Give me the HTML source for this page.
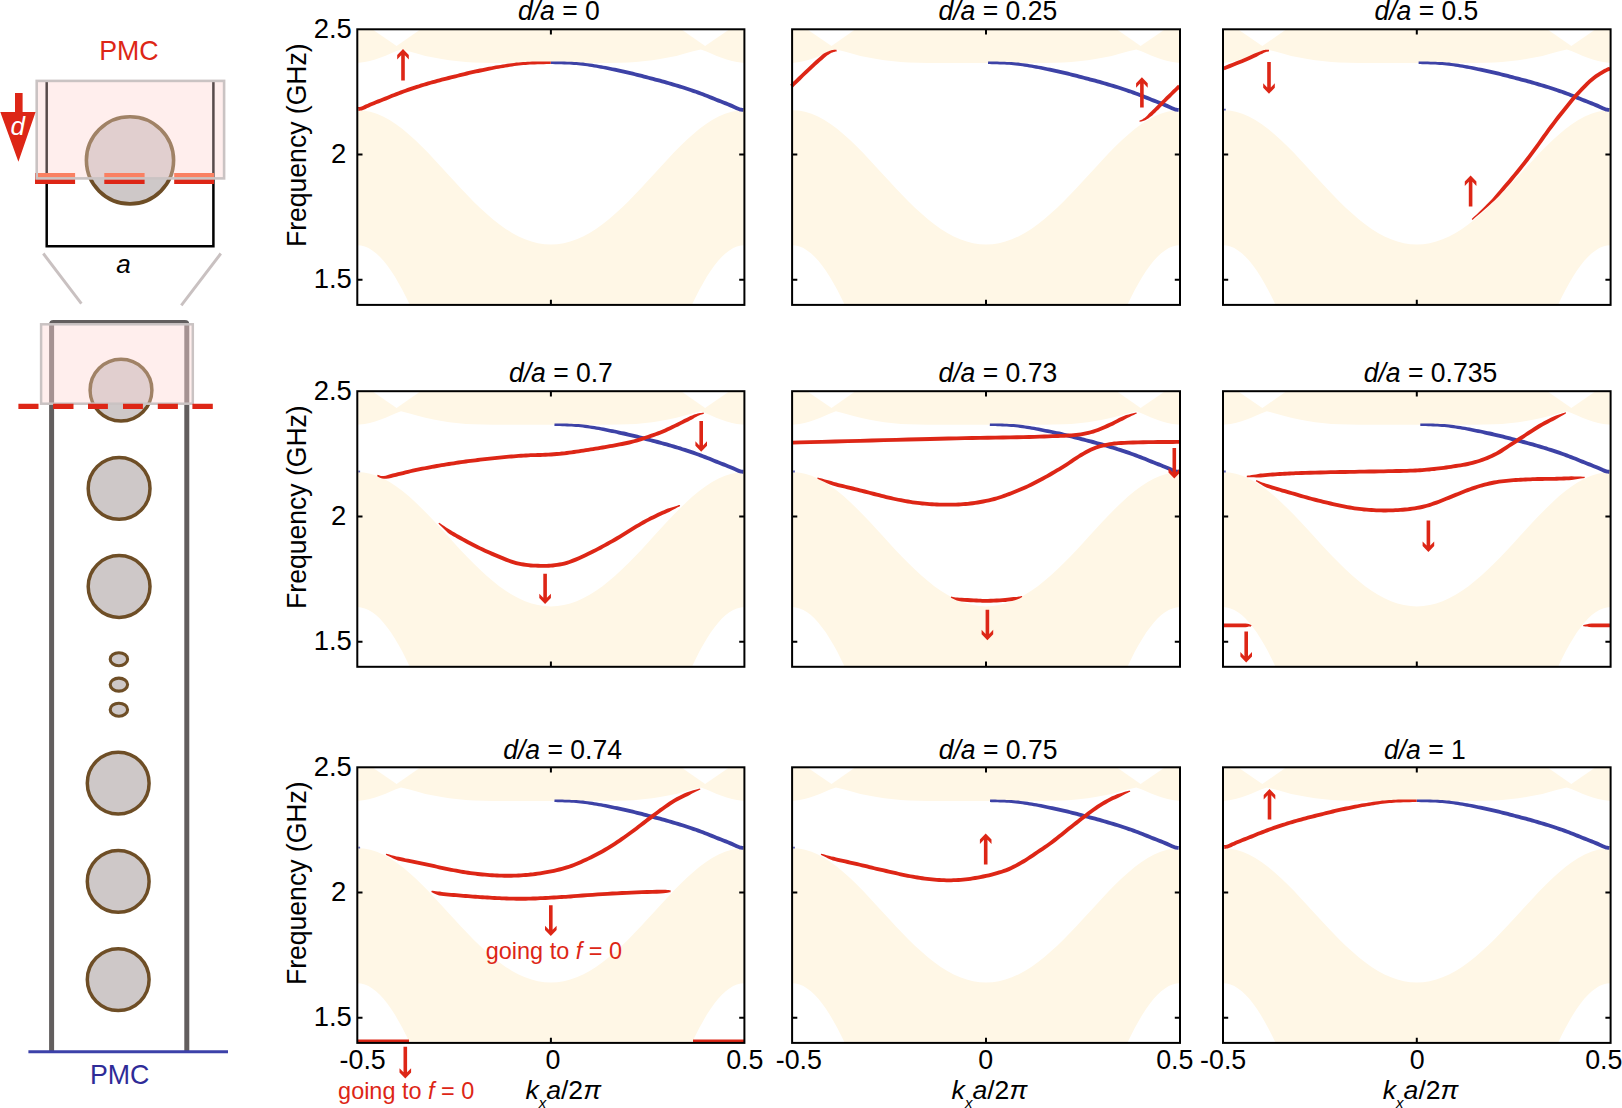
<!DOCTYPE html>
<html lang="en"><head><meta charset="utf-8"><title>Edge-state evolution with boundary shift d/a</title>
<style>html,body{margin:0;padding:0;background:#fff}svg{display:block}text{font-family:'Liberation Sans', Arial, Helvetica, sans-serif}</style></head><body>
<svg width="1622" height="1108" viewBox="0 0 1622 1108">
<rect width="1622" height="1108" fill="#fff"/>
<g>
<path d="M744.4,29.3 L357.3,29.3 L357.3,62.9 L364.7,62.1 L369.7,61 L375.1,59.5 L380.1,57.8 L385.6,55.8 L390.6,53.5 L395.8,51.3 L401,49.4 L409.6,51.5 L417.7,53.8 L425.4,55.9 L433.6,57.5 L441.7,59.1 L449.4,60.3 L465.7,62 L473.4,62.4 L492.8,62.9 L550.9,62.9 L608.9,62.9 L628.3,62.4 L636,62 L652.3,60.3 L660,59.1 L668.1,57.5 L676.3,55.9 L684,53.8 L692.1,51.5 L700.7,49.4 L705.9,51.3 L711.1,53.5 L716.1,55.8 L721.6,57.8 L726.6,59.5 L732,61 L737,62.1 L744.4,62.9 Z" fill="#FFF7E6"/>
<path d="M420.6,29.3L396.6,46.1L372.2,29.3Z" fill="#fff"/>
<path d="M681.1,29.3L705.1,46.1L729.5,29.3Z" fill="#fff"/>
<path d="M357.3,110.2L363.8,110.6L370.2,111.8L376.7,113.8L383.1,116.6L389.6,120.1L396,124.3L402.5,129.1L408.9,134.4L415.4,140.3L421.8,146.5L428.3,153.1L434.7,159.9L441.2,166.9L447.6,173.9L454.1,181L460.5,188L467,194.8L473.4,201.4L479.9,207.7L486.3,213.6L492.8,219.2L499.2,224.3L505.7,228.9L512.1,232.9L518.6,236.4L525,239.3L531.5,241.5L537.9,243.2L544.4,244.2L550.9,244.5L557.3,244.2L563.8,243.2L570.2,241.5L576.7,239.3L583.1,236.4L589.6,232.9L596,228.9L602.5,224.3L608.9,219.2L615.4,213.6L621.8,207.7L628.3,201.4L634.7,194.8L641.2,188L647.6,181L654.1,173.9L660.5,166.9L667,159.9L673.4,153.1L679.9,146.5L686.3,140.3L692.8,134.4L699.2,129.1L705.7,124.3L712.1,120.1L718.6,116.6L725,113.8L731.5,111.8L737.9,110.6L744.4,110.2L744.4,245.2L740.7,245.6L736.9,246.5L733.2,248.1L729.4,250.4L725.7,253.2L721.9,256.7L718.2,260.8L714.4,265.5L710.7,270.7L706.9,276.5L703.2,282.9L699.4,289.7L695.7,297L691.9,304.8L409.8,304.8L406,297L402.3,289.7L398.5,282.9L394.8,276.5L391,270.7L387.3,265.5L383.5,260.8L379.8,256.7L376,253.2L372.3,250.4L368.5,248.1L364.8,246.5L361,245.6L357.3,245.2Z" fill="#FFF7E6"/>
<path d="M358.5,110.9 358.8,110.9 359.3,110.8 359.9,110.8 360.8,110.6 361.8,110.4 363.0,110.0 364.3,109.5 365.7,108.9 367.3,108.1 368.9,107.4 370.7,106.6 372.5,105.8 374.6,105.0 376.7,104.1 379.1,103.2 381.4,102.2 383.8,101.3 386.1,100.4 388.4,99.5 390.6,98.6 392.9,97.6 395.1,96.7 397.3,95.9 399.6,95.0 401.8,94.2 404.1,93.3 406.3,92.5 408.6,91.8 410.9,91.0 413.1,90.2 415.4,89.5 417.6,88.7 419.9,88.0 422.1,87.3 424.4,86.6 426.7,85.9 428.9,85.3 431.1,84.6 433.4,84.0 435.6,83.4 437.8,82.8 440.1,82.2 442.3,81.6 444.6,81.0 446.9,80.4 449.1,79.9 451.4,79.3 453.7,78.8 455.9,78.2 458.2,77.6 460.5,77.0 462.7,76.5 465.0,75.9 467.2,75.4 469.5,74.8 471.7,74.3 474.0,73.8 476.2,73.3 478.4,72.9 480.7,72.4 482.9,71.9 485.2,71.4 487.5,70.9 489.7,70.5 492.0,70.0 494.2,69.6 496.5,69.1 498.7,68.7 500.9,68.3 503.2,67.9 505.4,67.5 507.7,67.2 509.9,66.8 512.2,66.4 514.4,66.1 516.7,65.8 518.9,65.5 521.1,65.2 523.4,65.0 525.5,64.9 527.7,64.7 529.9,64.6 532.2,64.5 534.6,64.4 537.4,64.3 540.4,64.2 543.6,64.2 546.5,64.1 549.0,64.1 550.8,64.0 550.8,61.6 549.0,61.5 546.5,61.5 543.5,61.5 540.4,61.5 537.3,61.6 534.6,61.6 532.1,61.6 529.8,61.7 527.6,61.8 525.3,61.9 523.1,62.0 520.9,62.2 518.6,62.4 516.3,62.6 514.0,62.9 511.7,63.2 509.4,63.5 507.1,63.8 504.9,64.2 502.6,64.5 500.4,64.9 498.1,65.3 495.8,65.6 493.6,66.0 491.3,66.4 489.0,66.8 486.7,67.3 484.5,67.7 482.2,68.2 479.9,68.6 477.6,69.1 475.4,69.6 473.1,70.1 470.9,70.6 468.6,71.1 466.4,71.6 464.1,72.2 461.8,72.7 459.5,73.3 457.3,73.9 455.0,74.5 452.7,75.0 450.5,75.6 448.2,76.1 445.9,76.7 443.7,77.3 441.4,77.8 439.1,78.4 436.8,79.0 434.6,79.7 432.3,80.3 430.1,80.9 427.8,81.6 425.5,82.3 423.3,82.9 421.0,83.6 418.7,84.4 416.4,85.1 414.2,85.8 411.9,86.6 409.6,87.3 407.3,88.1 405.1,88.9 402.8,89.7 400.5,90.6 398.2,91.4 395.9,92.3 393.7,93.2 391.4,94.1 389.2,95.0 386.9,95.9 384.7,96.8 382.4,97.7 380.0,98.7 377.6,99.6 375.3,100.5 373.1,101.4 371.1,102.2 369.1,103.0 367.3,103.9 365.6,104.6 364.1,105.3 362.8,105.9 361.6,106.4 360.7,106.7 360.0,106.9 359.4,107.0 358.9,107.0 358.4,107.0 358.0,107.1Z" fill="#DD2616"/>
<path d="M550.9,64.0 552.7,64.1 555.2,64.2 558.1,64.2 561.3,64.3 564.3,64.4 567.1,64.5 569.5,64.6 571.8,64.7 574.0,64.9 576.2,65.0 578.3,65.2 580.5,65.4 582.8,65.7 585.0,66.0 587.3,66.3 589.5,66.7 591.8,67.1 594.0,67.4 596.3,67.8 598.5,68.3 600.7,68.7 603.0,69.1 605.2,69.6 607.5,70.0 609.7,70.5 612.0,71.0 614.2,71.5 616.5,72.0 618.7,72.5 621.0,73.0 623.2,73.5 625.5,74.0 627.7,74.5 630.0,75.0 632.2,75.6 634.4,76.1 636.7,76.7 638.9,77.3 641.2,77.8 643.5,78.4 645.7,79.0 648.0,79.6 650.3,80.2 652.6,80.8 654.8,81.4 657.1,82.0 659.3,82.6 661.6,83.2 663.8,83.8 666.1,84.4 668.3,85.1 670.6,85.7 672.8,86.4 675.0,87.0 677.3,87.7 679.6,88.4 681.8,89.1 684.1,89.8 686.3,90.6 688.6,91.3 690.8,92.1 693.1,92.9 695.4,93.6 697.6,94.4 699.9,95.3 702.1,96.1 704.4,97.0 706.6,97.8 708.8,98.7 711.1,99.7 713.3,100.6 715.6,101.5 717.9,102.4 720.3,103.3 722.6,104.3 725.0,105.2 727.2,106.1 729.2,106.9 731.0,107.7 732.8,108.4 734.5,109.2 736.0,109.9 737.5,110.5 738.8,111.0 739.9,111.4 741.0,111.6 741.8,111.7 742.5,111.8 742.9,111.8 743.3,111.8 743.6,108.0 743.2,107.9 742.7,107.9 742.2,107.9 741.6,107.8 740.9,107.7 740.0,107.4 738.9,106.9 737.6,106.4 736.0,105.7 734.4,104.9 732.5,104.1 730.6,103.3 728.6,102.5 726.4,101.6 724.1,100.7 721.7,99.8 719.3,98.8 717.0,97.9 714.8,97.0 712.5,96.1 710.3,95.2 708.0,94.3 705.8,93.4 703.5,92.5 701.2,91.7 698.9,90.8 696.6,90.0 694.4,89.2 692.1,88.4 689.8,87.7 687.5,86.9 685.3,86.2 683.0,85.5 680.7,84.7 678.4,84.0 676.2,83.4 673.9,82.7 671.6,82.0 669.4,81.4 667.1,80.7 664.9,80.1 662.6,79.5 660.3,78.8 658.1,78.2 655.8,77.7 653.5,77.1 651.2,76.5 649.0,75.9 646.7,75.3 644.5,74.7 642.2,74.1 639.9,73.5 637.6,72.9 635.4,72.4 633.1,71.8 630.8,71.3 628.6,70.8 626.3,70.2 624.1,69.7 621.8,69.2 619.5,68.7 617.3,68.3 615.0,67.8 612.7,67.4 610.4,66.9 608.1,66.5 605.9,66.1 603.6,65.7 601.4,65.3 599.1,64.9 596.8,64.5 594.6,64.2 592.3,63.8 590.0,63.5 587.7,63.2 585.4,62.9 583.1,62.6 580.9,62.4 578.6,62.2 576.4,62.0 574.1,61.9 571.9,61.8 569.6,61.8 567.1,61.7 564.4,61.6 561.3,61.6 558.2,61.6 555.2,61.6 552.7,61.6 550.9,61.6Z" fill="#3D42A6"/>
<path d="M403,49L408.8,55L408.8,59.4L404.8,55.3L404.8,80.5L401.2,80.5L401.2,55.3L397.2,59.4L397.2,55Z" fill="#DD2616"/>
<rect x="357.3" y="29.3" width="387.1" height="275.6" fill="none" stroke="#000" stroke-width="2"/>
<path d="M357.3,154.6h5.2 M744.4,154.6h-5.2 M357.3,279.8h5.2 M744.4,279.8h-5.2 M550.9,29.3v5.2 M550.9,304.9v-5.2" stroke="#000" stroke-width="2" fill="none"/>
</g>
<text transform="translate(518,20.4) scale(0.972,1)" font-size="27.3" text-anchor="start" fill="#000" ><tspan font-style="italic">d/a</tspan> = 0</text>
<g>
<path d="M1180,29.3 L792.1,29.3 L792.1,62.9 L799.5,62.1 L804.5,61 L809.9,59.5 L815,57.8 L820.4,55.8 L825.5,53.5 L830.7,51.3 L835.9,49.4 L844.5,51.5 L852.6,53.8 L860.4,55.9 L868.5,57.5 L876.7,59.1 L884.4,60.3 L900.7,62 L908.5,62.4 L927.9,62.9 L986,62.9 L1044.2,62.9 L1063.6,62.4 L1071.4,62 L1087.7,60.3 L1095.4,59.1 L1103.6,57.5 L1111.7,55.9 L1119.5,53.8 L1127.6,51.5 L1136.2,49.4 L1141.4,51.3 L1146.6,53.5 L1151.7,55.8 L1157.1,57.8 L1162.2,59.5 L1167.6,61 L1172.6,62.1 L1180,62.9 Z" fill="#FFF7E6"/>
<path d="M855.5,29.3L831.5,46.1L807,29.3Z" fill="#fff"/>
<path d="M1116.6,29.3L1140.6,46.1L1165.1,29.3Z" fill="#fff"/>
<path d="M792.1,110.2L798.6,110.6L805,111.8L811.5,113.8L818,116.6L824.4,120.1L830.9,124.3L837.4,129.1L843.8,134.4L850.3,140.3L856.8,146.5L863.2,153.1L869.7,159.9L876.1,166.9L882.6,173.9L889.1,181L895.5,188L902,194.8L908.5,201.4L914.9,207.7L921.4,213.6L927.9,219.2L934.3,224.3L940.8,228.9L947.3,232.9L953.7,236.4L960.2,239.3L966.7,241.5L973.1,243.2L979.6,244.2L986,244.5L992.5,244.2L999,243.2L1005.4,241.5L1011.9,239.3L1018.4,236.4L1024.8,232.9L1031.3,228.9L1037.8,224.3L1044.2,219.2L1050.7,213.6L1057.2,207.7L1063.6,201.4L1070.1,194.8L1076.6,188L1083,181L1089.5,173.9L1096,166.9L1102.4,159.9L1108.9,153.1L1115.3,146.5L1121.8,140.3L1128.3,134.4L1134.7,129.1L1141.2,124.3L1147.7,120.1L1154.1,116.6L1160.6,113.8L1167.1,111.8L1173.5,110.6L1180,110.2L1180,245.2L1176.2,245.6L1172.5,246.5L1168.7,248.1L1165,250.4L1161.2,253.2L1157.5,256.7L1153.7,260.8L1150,265.5L1146.2,270.7L1142.5,276.5L1138.7,282.9L1134.9,289.7L1131.2,297L1127.4,304.8L844.7,304.8L840.9,297L837.2,289.7L833.4,282.9L829.6,276.5L825.9,270.7L822.1,265.5L818.4,260.8L814.6,256.7L810.9,253.2L807.1,250.4L803.4,248.1L799.6,246.5L795.9,245.6L792.1,245.2Z" fill="#FFF7E6"/>
<path d="M988.0,64.1 989.6,64.1 991.8,64.2 994.3,64.2 997.0,64.3 999.8,64.4 1002.3,64.5 1004.5,64.6 1006.8,64.7 1009.1,64.8 1011.3,65.0 1013.5,65.2 1015.7,65.4 1018.0,65.7 1020.2,66.0 1022.5,66.3 1024.7,66.7 1027.0,67.0 1029.2,67.4 1031.5,67.8 1033.7,68.2 1035.9,68.7 1038.2,69.1 1040.4,69.6 1042.7,70.0 1044.9,70.5 1047.2,71.0 1049.4,71.5 1051.7,72.0 1053.9,72.5 1056.2,73.0 1058.4,73.5 1060.7,74.0 1062.9,74.5 1065.2,75.0 1067.4,75.6 1069.6,76.1 1071.9,76.7 1074.1,77.3 1076.4,77.8 1078.7,78.4 1080.9,79.0 1083.2,79.6 1085.5,80.2 1087.8,80.8 1090.0,81.4 1092.3,82.0 1094.5,82.6 1096.8,83.2 1099.0,83.8 1101.3,84.4 1103.5,85.1 1105.8,85.7 1108.0,86.4 1110.2,87.0 1112.5,87.7 1114.8,88.4 1117.0,89.1 1119.3,89.8 1121.5,90.6 1123.8,91.3 1126.0,92.1 1128.3,92.9 1130.6,93.6 1132.8,94.4 1135.1,95.3 1137.3,96.1 1139.6,97.0 1141.8,97.8 1144.0,98.7 1146.3,99.7 1148.5,100.6 1150.8,101.5 1153.1,102.4 1155.5,103.3 1157.8,104.3 1160.2,105.2 1162.4,106.1 1164.4,106.9 1166.2,107.7 1168.0,108.4 1169.7,109.2 1171.2,109.9 1172.7,110.5 1174.0,111.0 1175.1,111.4 1176.2,111.6 1177.0,111.7 1177.7,111.8 1178.1,111.8 1178.5,111.8 1178.8,108.0 1178.4,107.9 1177.9,107.9 1177.4,107.9 1176.8,107.8 1176.1,107.7 1175.2,107.4 1174.1,106.9 1172.8,106.4 1171.2,105.7 1169.6,104.9 1167.7,104.1 1165.8,103.3 1163.8,102.5 1161.6,101.6 1159.3,100.7 1156.9,99.8 1154.5,98.8 1152.2,97.9 1150.0,97.0 1147.7,96.1 1145.5,95.2 1143.2,94.3 1141.0,93.4 1138.7,92.5 1136.4,91.7 1134.1,90.8 1131.8,90.0 1129.6,89.2 1127.3,88.4 1125.0,87.7 1122.7,86.9 1120.5,86.2 1118.2,85.5 1115.9,84.7 1113.6,84.0 1111.4,83.4 1109.1,82.7 1106.8,82.0 1104.6,81.4 1102.3,80.7 1100.1,80.1 1097.8,79.5 1095.5,78.8 1093.3,78.2 1091.0,77.7 1088.7,77.1 1086.4,76.5 1084.2,75.9 1081.9,75.3 1079.7,74.7 1077.4,74.1 1075.1,73.5 1072.8,72.9 1070.6,72.4 1068.3,71.8 1066.0,71.3 1063.8,70.8 1061.5,70.2 1059.3,69.7 1057.0,69.2 1054.7,68.8 1052.5,68.3 1050.2,67.8 1047.9,67.4 1045.6,66.9 1043.3,66.5 1041.1,66.1 1038.8,65.7 1036.6,65.3 1034.3,64.9 1032.0,64.5 1029.8,64.2 1027.5,63.8 1025.2,63.5 1022.9,63.2 1020.6,62.9 1018.3,62.6 1016.1,62.4 1013.8,62.2 1011.5,62.1 1009.2,61.9 1006.9,61.9 1004.7,61.8 1002.3,61.7 999.8,61.7 997.1,61.6 994.3,61.6 991.8,61.6 989.6,61.6 988.1,61.6Z" fill="#3D42A6"/>
<path d="M792.9,87.5 794.8,85.6 797.5,83.0 800.7,79.9 804.0,76.6 807.3,73.5 810.2,70.7 812.9,68.2 815.5,65.8 818.1,63.5 820.5,61.3 822.7,59.4 824.5,57.8 826.0,56.6 827.1,55.6 828.0,55.0 828.8,54.5 829.5,54.0 830.3,53.5 831.0,53.1 831.6,52.8 832.1,52.6 832.6,52.4 833.1,52.2 833.7,52.1 834.2,51.9 834.8,51.8 835.4,51.6 835.9,51.6 836.4,51.5 836.7,51.4 836.5,49.7 836.2,49.7 835.7,49.7 835.2,49.7 834.5,49.8 833.8,49.8 833.2,49.9 832.6,50.0 832.0,50.1 831.4,50.2 830.7,50.4 829.9,50.7 829.1,51.0 828.2,51.4 827.3,51.7 826.4,52.2 825.2,52.8 823.8,53.6 822.1,54.8 820.2,56.5 817.9,58.4 815.5,60.6 812.9,63.0 810.2,65.4 807.6,67.9 804.6,70.7 801.3,73.9 798.0,77.1 794.8,80.2 792.1,82.8 790.2,84.7Z" fill="#DD2616"/>
<path d="M1139.8,121.9 1140.2,121.8 1140.8,121.6 1141.5,121.5 1142.3,121.3 1143.0,121.0 1143.8,120.7 1144.5,120.5 1145.1,120.2 1145.7,119.9 1146.5,119.6 1147.3,119.0 1148.3,118.4 1149.5,117.5 1150.8,116.6 1152.3,115.5 1153.7,114.1 1155.2,112.7 1156.8,111.1 1158.6,109.4 1160.4,107.6 1162.4,105.6 1164.4,103.6 1166.4,101.6 1168.4,99.6 1170.6,97.5 1172.9,95.1 1175.3,92.8 1177.6,90.6 1179.5,88.8 1180.8,87.5 1178.1,84.7 1176.8,86.0 1174.9,87.9 1172.6,90.0 1170.3,92.4 1167.9,94.7 1165.7,96.8 1163.7,98.9 1161.6,100.9 1159.6,102.9 1157.7,104.9 1155.9,106.7 1154.2,108.4 1152.6,109.9 1151.1,111.4 1149.7,112.7 1148.5,114.0 1147.5,115.2 1146.5,116.2 1145.7,117.0 1145.1,117.5 1144.5,118.0 1144.0,118.3 1143.5,118.6 1142.9,119.0 1142.3,119.4 1141.7,119.7 1141.0,120.1 1140.4,120.3 1139.8,120.6 1139.4,120.8Z" fill="#DD2616"/>
<path d="M1141.9,77.3L1147.7,83.3L1147.7,87.7L1143.7,83.6L1143.7,107.5L1140.1,107.5L1140.1,83.6L1136.1,87.7L1136.1,83.3Z" fill="#DD2616"/>
<rect x="792.1" y="29.3" width="387.9" height="275.6" fill="none" stroke="#000" stroke-width="2"/>
<path d="M792.1,154.6h5.2 M1180,154.6h-5.2 M792.1,279.8h5.2 M1180,279.8h-5.2 M986,29.3v5.2 M986,304.9v-5.2" stroke="#000" stroke-width="2" fill="none"/>
</g>
<text transform="translate(938.5,20.4) scale(0.972,1)" font-size="27.3" text-anchor="start" fill="#000" ><tspan font-style="italic">d/a</tspan> = 0.25</text>
<g>
<path d="M1610.6,29.3 L1223,29.3 L1223,62.9 L1230.4,62.1 L1235.4,61 L1240.8,59.5 L1245.9,57.8 L1251.3,55.8 L1256.3,53.5 L1261.6,51.3 L1266.8,49.4 L1275.3,51.5 L1283.5,53.8 L1291.2,55.9 L1299.4,57.5 L1307.5,59.1 L1315.2,60.3 L1331.5,62 L1339.3,62.4 L1358.7,62.9 L1416.8,62.9 L1474.9,62.9 L1494.3,62.4 L1502.1,62 L1518.4,60.3 L1526.1,59.1 L1534.2,57.5 L1542.4,55.9 L1550.1,53.8 L1558.3,51.5 L1566.8,49.4 L1572,51.3 L1577.3,53.5 L1582.3,55.8 L1587.7,57.8 L1592.8,59.5 L1598.2,61 L1603.2,62.1 L1610.6,62.9 Z" fill="#FFF7E6"/>
<path d="M1286.4,29.3L1262.3,46.1L1237.9,29.3Z" fill="#fff"/>
<path d="M1547.2,29.3L1571.3,46.1L1595.7,29.3Z" fill="#fff"/>
<path d="M1223,110.2L1229.5,110.6L1235.9,111.8L1242.4,113.8L1248.8,116.6L1255.3,120.1L1261.8,124.3L1268.2,129.1L1274.7,134.4L1281.1,140.3L1287.6,146.5L1294.1,153.1L1300.5,159.9L1307,166.9L1313.4,173.9L1319.9,181L1326.4,188L1332.8,194.8L1339.3,201.4L1345.7,207.7L1352.2,213.6L1358.7,219.2L1365.1,224.3L1371.6,228.9L1378,232.9L1384.5,236.4L1391,239.3L1397.4,241.5L1403.9,243.2L1410.3,244.2L1416.8,244.5L1423.3,244.2L1429.7,243.2L1436.2,241.5L1442.6,239.3L1449.1,236.4L1455.6,232.9L1462,228.9L1468.5,224.3L1474.9,219.2L1481.4,213.6L1487.9,207.7L1494.3,201.4L1500.8,194.8L1507.2,188L1513.7,181L1520.2,173.9L1526.6,166.9L1533.1,159.9L1539.5,153.1L1546,146.5L1552.5,140.3L1558.9,134.4L1565.4,129.1L1571.8,124.3L1578.3,120.1L1584.8,116.6L1591.2,113.8L1597.7,111.8L1604.1,110.6L1610.6,110.2L1610.6,245.2L1606.8,245.6L1603.1,246.5L1599.3,248.1L1595.6,250.4L1591.8,253.2L1588.1,256.7L1584.3,260.8L1580.6,265.5L1576.8,270.7L1573.1,276.5L1569.3,282.9L1565.6,289.7L1561.8,297L1558.1,304.8L1275.5,304.8L1271.8,297L1268,289.7L1264.3,282.9L1260.5,276.5L1256.8,270.7L1253,265.5L1249.3,260.8L1245.5,256.7L1241.8,253.2L1238,250.4L1234.3,248.1L1230.5,246.5L1226.8,245.6L1223,245.2Z" fill="#FFF7E6"/>
<path d="M1418.6,64.1 1420.2,64.1 1422.4,64.2 1425.0,64.2 1427.7,64.3 1430.5,64.4 1433.0,64.5 1435.3,64.6 1437.6,64.7 1439.8,64.9 1442.1,65.0 1444.3,65.2 1446.5,65.4 1448.7,65.7 1451.0,66.0 1453.2,66.3 1455.5,66.7 1457.7,67.0 1460.0,67.4 1462.2,67.8 1464.5,68.2 1466.7,68.7 1468.9,69.1 1471.2,69.6 1473.4,70.0 1475.7,70.5 1477.9,71.0 1480.2,71.5 1482.4,72.0 1484.7,72.5 1486.9,73.0 1489.2,73.5 1491.4,74.0 1493.7,74.5 1495.9,75.0 1498.1,75.6 1500.4,76.1 1502.6,76.7 1504.9,77.3 1507.2,77.8 1509.4,78.4 1511.7,79.0 1514.0,79.6 1516.2,80.2 1518.5,80.8 1520.8,81.4 1523.0,82.0 1525.3,82.6 1527.5,83.2 1529.8,83.8 1532.0,84.4 1534.3,85.1 1536.5,85.7 1538.7,86.4 1541.0,87.0 1543.2,87.7 1545.5,88.4 1547.8,89.1 1550.0,89.8 1552.3,90.6 1554.5,91.3 1556.8,92.1 1559.1,92.9 1561.3,93.6 1563.6,94.4 1565.8,95.3 1568.1,96.1 1570.3,97.0 1572.5,97.8 1574.8,98.7 1577.0,99.7 1579.3,100.6 1581.5,101.5 1583.9,102.4 1586.2,103.3 1588.6,104.3 1590.9,105.2 1593.1,106.1 1595.1,106.9 1597.0,107.7 1598.7,108.4 1600.4,109.2 1602.0,109.9 1603.4,110.5 1604.7,111.0 1605.9,111.4 1606.9,111.6 1607.8,111.7 1608.4,111.8 1608.9,111.8 1609.2,111.8 1609.6,108.0 1609.1,107.9 1608.7,107.9 1608.2,107.9 1607.6,107.8 1606.9,107.7 1606.0,107.4 1604.9,106.9 1603.5,106.4 1602.0,105.7 1600.3,104.9 1598.5,104.1 1596.6,103.3 1594.5,102.5 1592.3,101.6 1590.0,100.7 1587.6,99.8 1585.3,98.8 1583.0,97.9 1580.7,97.0 1578.5,96.1 1576.2,95.2 1574.0,94.3 1571.7,93.4 1569.4,92.5 1567.2,91.7 1564.9,90.8 1562.6,90.0 1560.3,89.2 1558.0,88.4 1555.8,87.7 1553.5,86.9 1551.2,86.2 1548.9,85.5 1546.6,84.7 1544.4,84.0 1542.1,83.4 1539.8,82.7 1537.6,82.0 1535.3,81.4 1533.1,80.7 1530.8,80.1 1528.6,79.5 1526.3,78.8 1524.0,78.2 1521.7,77.7 1519.5,77.1 1517.2,76.5 1514.9,75.9 1512.7,75.3 1510.4,74.7 1508.1,74.1 1505.9,73.5 1503.6,72.9 1501.3,72.4 1499.0,71.8 1496.8,71.3 1494.5,70.8 1492.3,70.2 1490.0,69.7 1487.8,69.2 1485.5,68.8 1483.2,68.3 1480.9,67.8 1478.6,67.4 1476.4,66.9 1474.1,66.5 1471.8,66.1 1469.6,65.7 1467.3,65.3 1465.1,64.9 1462.8,64.5 1460.5,64.2 1458.2,63.8 1456.0,63.5 1453.7,63.2 1451.4,62.9 1449.1,62.6 1446.8,62.4 1444.5,62.2 1442.2,62.1 1440.0,61.9 1437.7,61.9 1435.4,61.8 1433.1,61.7 1430.6,61.7 1427.8,61.6 1425.0,61.6 1422.4,61.6 1420.2,61.6 1418.6,61.6Z" fill="#3D42A6"/>
<path d="M1224,109.6h1.8" stroke="#3D42A6" stroke-width="1.8" stroke-opacity="0.8" fill="none"/>
<path d="M1224.4,70.2 1226.8,69.3 1230.3,67.9 1234.3,66.3 1238.6,64.6 1242.6,63.0 1246.1,61.6 1249.0,60.3 1251.8,59.0 1254.4,57.8 1256.7,56.7 1258.7,55.5 1260.4,54.6 1261.8,53.9 1262.8,53.4 1263.5,53.0 1264.1,52.7 1264.6,52.5 1265.3,52.3 1266.0,52.0 1266.7,51.8 1267.4,51.7 1268.1,51.6 1268.7,51.5 1269.1,51.4 1268.9,49.7 1268.5,49.7 1267.9,49.7 1267.2,49.7 1266.4,49.8 1265.5,49.8 1264.7,50.0 1263.9,50.1 1263.2,50.3 1262.5,50.5 1261.7,50.8 1260.6,51.2 1259.1,51.7 1257.2,52.4 1255.1,53.2 1252.8,54.3 1250.2,55.5 1247.5,56.8 1244.6,58.0 1241.2,59.4 1237.1,61.1 1232.9,62.8 1228.8,64.3 1225.4,65.7 1223.0,66.7Z" fill="#DD2616"/>
<path d="M1472.5,220.0 1474.6,218.1 1477.6,215.6 1481.2,212.5 1484.9,209.3 1488.6,206.1 1491.8,203.1 1494.6,200.5 1497.1,197.9 1499.6,195.4 1502.0,192.8 1504.4,190.3 1506.7,187.6 1509.2,184.8 1511.6,181.9 1514.0,179.1 1516.4,176.1 1518.8,173.2 1521.2,170.2 1523.7,167.1 1526.1,164.1 1528.5,160.9 1530.9,157.8 1533.3,154.6 1535.7,151.3 1538.1,148.0 1540.6,144.6 1543.0,141.2 1545.4,137.8 1547.8,134.4 1550.2,131.1 1552.6,127.9 1555.0,124.7 1557.4,121.6 1559.8,118.5 1562.2,115.4 1564.6,112.4 1567.0,109.4 1569.4,106.4 1571.8,103.5 1574.2,100.6 1576.5,97.8 1578.9,95.2 1581.4,92.5 1583.8,89.9 1586.3,87.4 1588.7,85.0 1591.0,82.8 1593.2,80.9 1595.3,79.2 1597.3,77.8 1599.3,76.4 1601.1,75.3 1602.9,74.2 1604.5,73.3 1605.9,72.5 1607.2,71.8 1608.3,71.3 1609.3,70.9 1610.2,70.5 1610.9,70.2 1609.4,66.7 1608.7,67.0 1607.9,67.3 1606.8,67.8 1605.5,68.4 1604.1,69.1 1602.5,70.0 1600.9,70.9 1599.1,72.0 1597.2,73.2 1595.1,74.6 1592.9,76.2 1590.7,78.0 1588.4,80.0 1586.0,82.3 1583.5,84.7 1581.0,87.3 1578.5,89.9 1576.1,92.6 1573.6,95.3 1571.2,98.1 1568.8,101.0 1566.4,104.0 1564.0,107.0 1561.6,110.0 1559.1,113.0 1556.7,116.1 1554.3,119.2 1551.9,122.4 1549.5,125.6 1547.1,128.8 1544.7,132.2 1542.2,135.6 1539.8,139.0 1537.4,142.4 1535.0,145.8 1532.6,149.1 1530.2,152.3 1527.8,155.5 1525.4,158.6 1523.0,161.7 1520.6,164.8 1518.2,167.8 1515.8,170.8 1513.4,173.7 1511.0,176.6 1508.6,179.4 1506.2,182.3 1503.8,185.0 1501.5,187.8 1499.3,190.5 1497.1,193.1 1494.8,195.8 1492.5,198.5 1489.9,201.2 1486.9,204.3 1483.5,207.7 1479.9,211.2 1476.6,214.4 1473.7,217.1 1471.7,219.1Z" fill="#DD2616"/>
<path d="M1269,93.7L1274.8,87.7L1274.8,83.3L1270.8,87.4L1270.8,62.1L1267.2,62.1L1267.2,87.4L1263.2,83.3L1263.2,87.7Z" fill="#DD2616"/>
<path d="M1470.6,175.5L1476.4,181.5L1476.4,185.9L1472.4,181.8L1472.4,206.5L1468.8,206.5L1468.8,181.8L1464.8,185.9L1464.8,181.5Z" fill="#DD2616"/>
<rect x="1223" y="29.3" width="387.6" height="275.6" fill="none" stroke="#000" stroke-width="2"/>
<path d="M1223,154.6h5.2 M1610.6,154.6h-5.2 M1223,279.8h5.2 M1610.6,279.8h-5.2 M1416.8,29.3v5.2 M1416.8,304.9v-5.2" stroke="#000" stroke-width="2" fill="none"/>
</g>
<text transform="translate(1374.4,20.4) scale(0.972,1)" font-size="27.3" text-anchor="start" fill="#000" ><tspan font-style="italic">d/a</tspan> = 0.5</text>
<text transform="translate(351.9,37.7) scale(0.968,1)" font-size="28.4" text-anchor="end" fill="#000" >2.5</text>
<text transform="translate(346.4,163) scale(0.968,1)" font-size="28.4" text-anchor="end" fill="#000" >2</text>
<text transform="translate(351.9,288.2) scale(0.968,1)" font-size="28.4" text-anchor="end" fill="#000" >1.5</text>
<text transform="translate(306.2,145.2) rotate(-90)" font-size="27.6" text-anchor="middle" textLength="203.6" lengthAdjust="spacingAndGlyphs" fill="#000">Frequency (GHz)</text>
<g>
<path d="M744.4,391.2 L357.3,391.2 L357.3,424.8 L364.7,424 L369.7,422.9 L375.1,421.4 L380.1,419.7 L385.6,417.7 L390.6,415.4 L395.8,413.2 L401,411.3 L409.6,413.4 L417.7,415.7 L425.4,417.8 L433.6,419.4 L441.7,421 L449.4,422.2 L465.7,423.9 L473.4,424.3 L492.8,424.8 L550.9,424.8 L608.9,424.8 L628.3,424.3 L636,423.9 L652.3,422.2 L660,421 L668.1,419.4 L676.3,417.8 L684,415.7 L692.1,413.4 L700.7,411.3 L705.9,413.2 L711.1,415.4 L716.1,417.7 L721.6,419.7 L726.6,421.4 L732,422.9 L737,424 L744.4,424.8 Z" fill="#FFF7E6"/>
<path d="M420.6,391.2L396.6,408L372.2,391.2Z" fill="#fff"/>
<path d="M681.1,391.2L705.1,408L729.5,391.2Z" fill="#fff"/>
<path d="M357.3,472.1L363.8,472.5L370.2,473.7L376.7,475.7L383.1,478.5L389.6,482L396,486.2L402.5,491L408.9,496.3L415.4,502.2L421.8,508.4L428.3,515L434.7,521.8L441.2,528.8L447.6,535.8L454.1,542.9L460.5,549.9L467,556.7L473.4,563.3L479.9,569.6L486.3,575.5L492.8,581.1L499.2,586.2L505.7,590.8L512.1,594.8L518.6,598.3L525,601.2L531.5,603.4L537.9,605.1L544.4,606.1L550.9,606.4L557.3,606.1L563.8,605.1L570.2,603.4L576.7,601.2L583.1,598.3L589.6,594.8L596,590.8L602.5,586.2L608.9,581.1L615.4,575.5L621.8,569.6L628.3,563.3L634.7,556.7L641.2,549.9L647.6,542.9L654.1,535.8L660.5,528.8L667,521.8L673.4,515L679.9,508.4L686.3,502.2L692.8,496.3L699.2,491L705.7,486.2L712.1,482L718.6,478.5L725,475.7L731.5,473.7L737.9,472.5L744.4,472.1L744.4,607.1L740.7,607.5L736.9,608.4L733.2,610L729.4,612.3L725.7,615.1L721.9,618.6L718.2,622.7L714.4,627.4L710.7,632.6L706.9,638.4L703.2,644.8L699.4,651.6L695.7,658.9L691.9,666.7L409.8,666.7L406,658.9L402.3,651.6L398.5,644.8L394.8,638.4L391,632.6L387.3,627.4L383.5,622.7L379.8,618.6L376,615.1L372.3,612.3L368.5,610L364.8,608.4L361,607.5L357.3,607.1Z" fill="#FFF7E6"/>
<path d="M554.4,426.0 555.8,426.0 557.7,426.1 559.9,426.1 562.3,426.2 564.8,426.3 567.1,426.4 569.3,426.5 571.5,426.6 573.8,426.7 576.0,426.9 578.3,427.1 580.6,427.3 582.8,427.6 585.0,427.9 587.3,428.2 589.5,428.6 591.8,428.9 594.0,429.3 596.3,429.7 598.5,430.1 600.7,430.5 603.0,431.0 605.2,431.4 607.5,431.9 609.7,432.4 612.0,432.9 614.2,433.3 616.5,433.8 618.7,434.4 621.0,434.9 623.2,435.4 625.5,435.9 627.7,436.4 630.0,436.9 632.2,437.5 634.4,438.0 636.7,438.6 638.9,439.2 641.2,439.7 643.5,440.3 645.7,440.9 648.0,441.5 650.3,442.1 652.6,442.7 654.8,443.3 657.1,443.9 659.3,444.5 661.6,445.1 663.8,445.7 666.1,446.3 668.3,447.0 670.6,447.6 672.8,448.3 675.0,448.9 677.3,449.6 679.6,450.3 681.8,451.0 684.1,451.7 686.3,452.5 688.6,453.2 690.8,454.0 693.1,454.8 695.4,455.5 697.6,456.3 699.9,457.2 702.1,458.0 704.4,458.9 706.6,459.7 708.8,460.6 711.1,461.6 713.3,462.5 715.6,463.4 717.9,464.3 720.3,465.2 722.6,466.2 725.0,467.1 727.2,468.0 729.2,468.8 731.0,469.6 732.8,470.3 734.5,471.1 736.0,471.8 737.5,472.4 738.8,472.9 739.9,473.3 741.0,473.5 741.8,473.6 742.5,473.7 742.9,473.7 743.3,473.7 743.6,469.9 743.2,469.8 742.7,469.8 742.2,469.8 741.6,469.7 740.9,469.6 740.0,469.3 738.9,468.8 737.6,468.3 736.0,467.6 734.4,466.8 732.5,466.0 730.6,465.2 728.6,464.4 726.4,463.5 724.1,462.6 721.7,461.7 719.3,460.7 717.0,459.8 714.8,458.9 712.5,458.0 710.3,457.1 708.0,456.2 705.8,455.3 703.5,454.4 701.2,453.6 698.9,452.7 696.6,451.9 694.4,451.1 692.1,450.3 689.8,449.6 687.5,448.8 685.3,448.1 683.0,447.4 680.7,446.6 678.4,445.9 676.2,445.3 673.9,444.6 671.6,443.9 669.4,443.3 667.1,442.6 664.9,442.0 662.6,441.4 660.3,440.7 658.1,440.1 655.8,439.6 653.5,439.0 651.2,438.4 649.0,437.8 646.7,437.2 644.5,436.6 642.2,436.0 639.9,435.4 637.6,434.8 635.4,434.3 633.1,433.7 630.8,433.2 628.6,432.7 626.3,432.1 624.1,431.6 621.8,431.2 619.5,430.7 617.3,430.2 615.0,429.8 612.7,429.3 610.4,428.9 608.1,428.4 605.9,428.0 603.6,427.6 601.4,427.2 599.1,426.8 596.8,426.4 594.6,426.1 592.3,425.7 590.0,425.4 587.7,425.1 585.4,424.8 583.1,424.5 580.8,424.3 578.5,424.1 576.2,424.0 573.9,423.9 571.6,423.8 569.4,423.7 567.1,423.6 564.8,423.6 562.4,423.5 559.9,423.5 557.7,423.5 555.8,423.5 554.5,423.5Z" fill="#3D42A6"/>
<path d="M358.3,471.5h1.8" stroke="#3D42A6" stroke-width="1.8" stroke-opacity="0.8" fill="none"/>
<path d="M377.1,476.1 377.6,476.4 378.4,476.9 379.4,477.5 380.6,478.1 382.1,478.5 384.0,478.7 386.1,478.7 388.5,478.4 391.1,478.0 393.7,477.3 396.3,476.7 398.8,476.1 401.2,475.5 403.6,474.9 406.0,474.3 408.4,473.7 410.8,473.1 413.2,472.6 415.6,472.1 418.0,471.6 420.4,471.1 422.8,470.6 425.2,470.1 427.6,469.7 430.0,469.2 432.3,468.8 434.7,468.4 437.1,467.9 439.5,467.5 441.9,467.1 444.3,466.7 446.7,466.3 449.2,465.9 451.6,465.5 454.0,465.2 456.4,464.8 458.8,464.5 461.2,464.1 463.6,463.8 466.0,463.4 468.3,463.1 470.8,462.8 473.2,462.5 475.6,462.2 478.0,461.9 480.4,461.6 482.8,461.3 485.2,461.0 487.6,460.7 490.0,460.5 492.4,460.2 494.8,460.0 497.2,459.8 499.6,459.5 502.0,459.3 504.4,459.1 506.8,458.8 509.2,458.6 511.6,458.4 514.0,458.2 516.4,458.0 518.8,457.8 521.2,457.7 523.6,457.5 526.0,457.4 528.4,457.2 530.7,457.1 533.1,457.1 535.4,457.0 537.8,457.0 540.2,456.9 542.8,456.8 545.5,456.7 548.3,456.5 551.2,456.4 554.0,456.2 556.9,456.0 559.6,455.7 562.1,455.5 564.6,455.2 567.0,454.9 569.4,454.6 571.8,454.2 574.2,453.9 576.6,453.6 579.0,453.2 581.4,452.8 583.8,452.5 586.2,452.1 588.6,451.7 591.0,451.3 593.4,451.0 595.8,450.6 598.2,450.2 600.6,449.8 603.0,449.4 605.4,449.0 607.9,448.6 610.3,448.1 612.7,447.7 615.1,447.3 617.6,446.8 620.0,446.3 622.4,445.9 624.8,445.4 627.2,444.9 629.6,444.4 632.1,443.8 634.5,443.1 637.0,442.4 639.4,441.7 641.9,440.9 644.3,440.1 646.7,439.3 649.1,438.6 651.5,437.8 653.9,437.0 656.3,436.1 658.8,435.2 661.2,434.3 663.7,433.3 666.1,432.2 668.5,431.1 670.9,429.9 673.3,428.8 675.7,427.6 678.2,426.4 680.8,425.1 683.4,423.8 685.9,422.5 688.2,421.4 690.3,420.3 692.0,419.4 693.6,418.5 694.9,417.6 696.1,416.9 697.3,416.3 698.4,415.7 699.5,415.2 700.6,414.8 701.6,414.4 702.5,414.2 703.3,413.9 703.9,413.8 703.7,412.6 703.1,412.7 702.3,412.8 701.3,412.9 700.1,413.0 698.9,413.2 697.6,413.5 696.3,413.9 695.0,414.3 693.6,414.8 692.1,415.4 690.4,416.0 688.5,416.9 686.5,417.9 684.1,419.1 681.6,420.4 679.1,421.7 676.5,423.0 674.1,424.2 671.7,425.3 669.3,426.5 666.9,427.6 664.5,428.7 662.1,429.7 659.8,430.7 657.4,431.6 655.1,432.5 652.7,433.3 650.3,434.1 647.9,434.9 645.5,435.7 643.1,436.5 640.7,437.2 638.3,438.0 635.9,438.7 633.5,439.4 631.1,440.0 628.8,440.6 626.4,441.1 624.0,441.6 621.6,442.1 619.2,442.5 616.8,443.0 614.4,443.5 612.0,443.9 609.6,444.3 607.2,444.8 604.8,445.2 602.4,445.6 600.0,446.0 597.6,446.4 595.2,446.8 592.8,447.2 590.4,447.5 588.0,447.9 585.6,448.3 583.2,448.7 580.8,449.0 578.4,449.4 576.0,449.8 573.6,450.1 571.3,450.4 568.9,450.7 566.5,451.1 564.2,451.4 561.7,451.6 559.2,451.9 556.6,452.1 553.8,452.3 550.9,452.5 548.1,452.7 545.3,452.8 542.6,453.0 540.1,453.1 537.7,453.1 535.3,453.2 533.0,453.2 530.6,453.3 528.2,453.4 525.8,453.5 523.3,453.7 520.9,453.8 518.5,454.0 516.1,454.2 513.6,454.4 511.2,454.6 508.8,454.8 506.4,455.0 504.0,455.2 501.6,455.5 499.2,455.7 496.8,455.9 494.4,456.2 492.0,456.4 489.6,456.7 487.2,456.9 484.8,457.2 482.4,457.5 479.9,457.8 477.5,458.1 475.1,458.4 472.7,458.7 470.2,459.0 467.8,459.3 465.4,459.6 463.0,460.0 460.6,460.3 458.2,460.6 455.8,461.0 453.4,461.4 451.0,461.7 448.5,462.1 446.1,462.5 443.7,462.9 441.3,463.3 438.9,463.7 436.5,464.1 434.1,464.6 431.6,465.0 429.2,465.5 426.8,465.9 424.4,466.4 422.0,466.8 419.6,467.3 417.2,467.8 414.8,468.3 412.4,468.8 409.9,469.4 407.5,470.0 405.1,470.6 402.7,471.2 400.3,471.8 397.8,472.3 395.3,472.9 392.7,473.6 390.1,474.3 387.8,475.1 385.6,475.7 383.8,476.1 382.4,476.1 381.2,476.0 380.1,475.7 379.2,475.3 378.4,474.9 377.7,474.7Z" fill="#DD2616"/>
<path d="M438.4,523.6 439.5,524.7 440.9,526.1 442.7,527.8 444.5,529.6 446.3,531.3 447.8,532.7 449.1,533.7 450.2,534.4 451.2,535.1 452.3,535.7 453.6,536.4 455.2,537.3 457.1,538.4 459.4,539.7 461.9,541.1 464.5,542.5 467.1,543.9 469.6,545.2 472.0,546.5 474.5,547.7 476.9,548.9 479.3,550.1 481.8,551.3 484.2,552.4 486.6,553.6 489.0,554.6 491.4,555.7 493.9,556.7 496.3,557.7 498.7,558.7 501.1,559.7 503.5,560.7 505.9,561.7 508.3,562.6 510.8,563.5 513.3,564.2 515.7,564.9 518.2,565.5 520.7,566.0 523.2,566.4 525.6,566.8 528.1,567.1 530.6,567.4 533.1,567.5 535.6,567.6 538.0,567.7 540.4,567.7 542.7,567.7 544.9,567.7 546.9,567.7 548.9,567.7 550.9,567.6 553.0,567.4 555.3,567.1 557.5,566.8 559.8,566.4 562.2,566.0 564.7,565.4 567.4,564.7 570.1,563.8 573.1,562.7 576.4,561.4 579.7,559.9 583.0,558.4 586.2,556.9 589.1,555.5 591.8,554.3 594.3,553.0 596.7,551.8 599.0,550.6 601.3,549.4 603.6,548.1 606.0,546.8 608.5,545.5 610.9,544.1 613.3,542.8 615.7,541.4 618.2,540.0 620.6,538.5 623.0,537.0 625.4,535.5 627.8,534.0 630.2,532.5 632.6,531.0 635.0,529.6 637.4,528.1 639.8,526.7 642.2,525.3 644.6,523.9 647.0,522.6 649.4,521.3 651.9,520.1 654.3,518.9 656.7,517.7 659.1,516.6 661.3,515.5 663.4,514.6 665.4,513.7 667.4,512.8 669.2,511.9 670.9,511.0 672.6,510.1 674.1,509.2 675.6,508.4 677.1,507.6 678.4,506.9 679.4,506.4 680.2,505.9 679.8,504.9 678.9,505.1 677.8,505.5 676.4,505.9 674.8,506.4 673.1,507.0 671.4,507.5 669.7,508.1 667.8,508.6 665.9,509.3 663.9,510.2 661.8,511.1 659.7,512.1 657.4,513.1 655.1,514.2 652.6,515.4 650.2,516.6 647.7,517.9 645.2,519.2 642.7,520.6 640.3,521.9 637.9,523.4 635.4,524.8 633.0,526.3 630.6,527.8 628.2,529.2 625.8,530.7 623.4,532.2 621.0,533.7 618.6,535.2 616.2,536.6 613.8,538.0 611.4,539.4 609.0,540.8 606.6,542.1 604.2,543.4 601.8,544.7 599.4,546.0 597.2,547.2 594.9,548.4 592.6,549.6 590.1,550.8 587.5,552.1 584.6,553.4 581.4,554.9 578.1,556.4 574.9,557.8 571.7,559.1 568.9,560.2 566.3,561.0 563.8,561.7 561.5,562.2 559.2,562.6 556.9,563.0 554.7,563.3 552.6,563.5 550.7,563.7 548.8,563.8 546.8,563.9 544.8,563.9 542.7,563.9 540.4,563.9 538.1,563.8 535.7,563.8 533.3,563.7 530.9,563.5 528.5,563.3 526.2,563.0 523.8,562.6 521.4,562.2 519.0,561.7 516.7,561.2 514.3,560.6 512.0,559.8 509.7,559.0 507.3,558.1 504.9,557.1 502.5,556.1 500.1,555.1 497.7,554.1 495.3,553.1 493.0,552.1 490.6,551.1 488.2,550.0 485.8,549.0 483.4,547.8 481.0,546.7 478.6,545.5 476.2,544.3 473.8,543.0 471.4,541.8 468.9,540.5 466.3,539.1 463.8,537.7 461.3,536.3 459.0,535.0 457.0,533.9 455.5,533.0 454.2,532.3 453.2,531.8 452.3,531.2 451.3,530.5 450.0,529.7 448.3,528.7 446.2,527.4 444.1,526.0 442.1,524.7 440.4,523.6 439.2,522.8Z" fill="#DD2616"/>
<path d="M701.2,451.7L707,445.7L707,441.3L703,445.4L703,421L699.4,421L699.4,445.4L695.4,441.3L695.4,445.7Z" fill="#DD2616"/>
<path d="M545.1,604.1L550.9,598.1L550.9,593.7L546.9,597.8L546.9,573.7L543.3,573.7L543.3,597.8L539.3,593.7L539.3,598.1Z" fill="#DD2616"/>
<rect x="357.3" y="391.2" width="387.1" height="275.6" fill="none" stroke="#000" stroke-width="2"/>
<path d="M357.3,516.5h5.2 M744.4,516.5h-5.2 M357.3,641.7h5.2 M744.4,641.7h-5.2 M550.9,391.2v5.2 M550.9,666.8v-5.2" stroke="#000" stroke-width="2" fill="none"/>
</g>
<text transform="translate(508.9,382.4) scale(0.972,1)" font-size="27.3" text-anchor="start" fill="#000" ><tspan font-style="italic">d/a</tspan> = 0.7</text>
<g>
<path d="M1180,391.2 L792.1,391.2 L792.1,424.8 L799.5,424 L804.5,422.9 L809.9,421.4 L815,419.7 L820.4,417.7 L825.5,415.4 L830.7,413.2 L835.9,411.3 L844.5,413.4 L852.6,415.7 L860.4,417.8 L868.5,419.4 L876.7,421 L884.4,422.2 L900.7,423.9 L908.5,424.3 L927.9,424.8 L986,424.8 L1044.2,424.8 L1063.6,424.3 L1071.4,423.9 L1087.7,422.2 L1095.4,421 L1103.6,419.4 L1111.7,417.8 L1119.5,415.7 L1127.6,413.4 L1136.2,411.3 L1141.4,413.2 L1146.6,415.4 L1151.7,417.7 L1157.1,419.7 L1162.2,421.4 L1167.6,422.9 L1172.6,424 L1180,424.8 Z" fill="#FFF7E6"/>
<path d="M855.5,391.2L831.5,408L807,391.2Z" fill="#fff"/>
<path d="M1116.6,391.2L1140.6,408L1165.1,391.2Z" fill="#fff"/>
<path d="M792.1,472.1L798.6,472.5L805,473.7L811.5,475.7L818,478.5L824.4,482L830.9,486.2L837.4,491L843.8,496.3L850.3,502.2L856.8,508.4L863.2,515L869.7,521.8L876.1,528.8L882.6,535.8L889.1,542.9L895.5,549.9L902,556.7L908.5,563.3L914.9,569.6L921.4,575.5L927.9,581.1L934.3,586.2L940.8,590.8L947.3,594.8L953.7,598.3L960.2,601.2L966.7,603.4L973.1,605.1L979.6,606.1L986,606.4L992.5,606.1L999,605.1L1005.4,603.4L1011.9,601.2L1018.4,598.3L1024.8,594.8L1031.3,590.8L1037.8,586.2L1044.2,581.1L1050.7,575.5L1057.2,569.6L1063.6,563.3L1070.1,556.7L1076.6,549.9L1083,542.9L1089.5,535.8L1096,528.8L1102.4,521.8L1108.9,515L1115.3,508.4L1121.8,502.2L1128.3,496.3L1134.7,491L1141.2,486.2L1147.7,482L1154.1,478.5L1160.6,475.7L1167.1,473.7L1173.5,472.5L1180,472.1L1180,607.1L1176.2,607.5L1172.5,608.4L1168.7,610L1165,612.3L1161.2,615.1L1157.5,618.6L1153.7,622.7L1150,627.4L1146.2,632.6L1142.5,638.4L1138.7,644.8L1134.9,651.6L1131.2,658.9L1127.4,666.7L844.7,666.7L840.9,658.9L837.2,651.6L833.4,644.8L829.6,638.4L825.9,632.6L822.1,627.4L818.4,622.7L814.6,618.6L810.9,615.1L807.1,612.3L803.4,610L799.6,608.4L795.9,607.5L792.1,607.1Z" fill="#FFF7E6"/>
<path d="M989.8,426.0 991.2,426.1 993.0,426.1 995.2,426.1 997.6,426.2 1000.0,426.3 1002.3,426.4 1004.4,426.5 1006.7,426.6 1009.0,426.7 1011.2,426.9 1013.5,427.1 1015.8,427.3 1018.0,427.6 1020.2,427.9 1022.5,428.2 1024.7,428.6 1027.0,428.9 1029.2,429.3 1031.5,429.7 1033.7,430.1 1035.9,430.5 1038.2,431.0 1040.4,431.4 1042.7,431.9 1044.9,432.4 1047.2,432.9 1049.4,433.3 1051.7,433.8 1053.9,434.4 1056.2,434.9 1058.4,435.4 1060.7,435.9 1062.9,436.4 1065.2,436.9 1067.4,437.5 1069.6,438.0 1071.9,438.6 1074.1,439.2 1076.4,439.7 1078.7,440.3 1080.9,440.9 1083.2,441.5 1085.5,442.1 1087.8,442.7 1090.0,443.3 1092.3,443.9 1094.5,444.5 1096.8,445.1 1099.0,445.7 1101.3,446.3 1103.5,447.0 1105.8,447.6 1108.0,448.3 1110.2,448.9 1112.5,449.6 1114.8,450.3 1117.0,451.0 1119.3,451.7 1121.5,452.5 1123.8,453.2 1126.0,454.0 1128.3,454.8 1130.6,455.5 1132.8,456.3 1135.1,457.2 1137.3,458.0 1139.6,458.9 1141.8,459.7 1144.0,460.6 1146.3,461.6 1148.5,462.5 1150.8,463.4 1153.1,464.3 1155.5,465.2 1157.8,466.2 1160.2,467.1 1162.4,468.0 1164.4,468.8 1166.2,469.6 1168.0,470.3 1169.7,471.1 1171.2,471.8 1172.7,472.4 1174.0,472.9 1175.1,473.3 1176.2,473.5 1177.0,473.6 1177.7,473.7 1178.1,473.7 1178.5,473.7 1178.8,469.9 1178.4,469.8 1177.9,469.8 1177.4,469.8 1176.8,469.7 1176.1,469.6 1175.2,469.3 1174.1,468.8 1172.8,468.3 1171.2,467.6 1169.6,466.8 1167.7,466.0 1165.8,465.2 1163.8,464.4 1161.6,463.5 1159.3,462.6 1156.9,461.7 1154.5,460.7 1152.2,459.8 1150.0,458.9 1147.7,458.0 1145.5,457.1 1143.2,456.2 1141.0,455.3 1138.7,454.4 1136.4,453.6 1134.1,452.7 1131.8,451.9 1129.6,451.1 1127.3,450.3 1125.0,449.6 1122.7,448.8 1120.5,448.1 1118.2,447.4 1115.9,446.6 1113.6,445.9 1111.4,445.3 1109.1,444.6 1106.8,443.9 1104.6,443.3 1102.3,442.6 1100.1,442.0 1097.8,441.4 1095.5,440.7 1093.3,440.1 1091.0,439.6 1088.7,439.0 1086.4,438.4 1084.2,437.8 1081.9,437.2 1079.7,436.6 1077.4,436.0 1075.1,435.4 1072.8,434.8 1070.6,434.3 1068.3,433.7 1066.0,433.2 1063.8,432.7 1061.5,432.1 1059.3,431.6 1057.0,431.2 1054.7,430.7 1052.5,430.2 1050.2,429.8 1047.9,429.3 1045.6,428.9 1043.3,428.4 1041.1,428.0 1038.8,427.6 1036.6,427.2 1034.3,426.8 1032.0,426.4 1029.8,426.1 1027.5,425.7 1025.2,425.4 1022.9,425.1 1020.6,424.8 1018.3,424.5 1016.0,424.3 1013.7,424.1 1011.4,424.0 1009.1,423.9 1006.8,423.8 1004.6,423.7 1002.3,423.6 1000.1,423.6 997.6,423.5 995.2,423.5 993.1,423.5 991.2,423.5 989.9,423.5Z" fill="#3D42A6"/>
<path d="M793.1,471.5h1.8" stroke="#3D42A6" stroke-width="1.8" stroke-opacity="0.8" fill="none"/>
<path d="M792.6,444.5 799.9,444.3 810.0,444.1 821.9,443.7 834.9,443.4 847.9,443.0 860.1,442.7 871.8,442.4 883.9,442.1 896.1,441.8 908.1,441.5 919.5,441.2 930.0,440.9 939.6,440.7 948.4,440.5 956.7,440.3 964.6,440.1 972.3,440.0 980.0,439.8 987.8,439.7 995.5,439.5 1003.0,439.4 1010.2,439.3 1017.0,439.2 1023.3,439.0 1029.2,438.9 1034.6,438.7 1039.6,438.6 1044.2,438.4 1048.5,438.3 1052.3,438.1 1055.5,438.0 1058.1,437.9 1060.4,437.8 1062.4,437.8 1064.5,437.7 1066.7,437.5 1069.1,437.4 1071.6,437.2 1074.0,437.1 1076.5,436.8 1078.9,436.6 1081.4,436.2 1083.9,435.8 1086.3,435.3 1088.8,434.7 1091.2,434.1 1093.7,433.4 1096.1,432.6 1098.6,431.8 1101.0,430.8 1103.4,429.8 1105.9,428.7 1108.3,427.7 1110.7,426.5 1113.2,425.4 1115.7,424.1 1118.2,422.8 1120.6,421.6 1123.0,420.4 1125.1,419.3 1127.3,418.1 1129.6,416.9 1131.8,415.8 1133.8,414.9 1135.5,414.1 1136.8,413.4 1136.4,412.4 1135.1,412.7 1133.2,413.2 1131.0,413.8 1128.6,414.4 1126.1,415.1 1123.7,415.9 1121.3,416.9 1118.9,418.1 1116.4,419.4 1113.9,420.7 1111.5,421.9 1109.1,423.1 1106.7,424.1 1104.3,425.2 1101.9,426.3 1099.6,427.2 1097.2,428.2 1094.9,429.0 1092.5,429.7 1090.2,430.4 1087.9,431.0 1085.5,431.5 1083.1,432.0 1080.8,432.4 1078.4,432.7 1076.1,433.0 1073.7,433.2 1071.3,433.4 1068.9,433.5 1066.5,433.7 1064.3,433.8 1062.2,433.9 1060.2,434.0 1058.0,434.1 1055.4,434.2 1052.1,434.3 1048.3,434.4 1044.1,434.6 1039.5,434.7 1034.5,434.9 1029.1,435.0 1023.3,435.2 1017.0,435.3 1010.1,435.4 1002.9,435.6 995.4,435.7 987.7,435.8 980.0,436.0 972.2,436.1 964.5,436.3 956.6,436.5 948.4,436.6 939.5,436.8 930.0,437.1 919.4,437.3 908.0,437.6 896.0,437.9 883.8,438.2 871.7,438.6 859.9,438.9 847.8,439.2 834.8,439.5 821.8,439.9 809.9,440.2 799.8,440.5 792.4,440.7Z" fill="#DD2616"/>
<path d="M817.2,478.5 818.9,479.4 821.2,480.5 824.0,481.8 827.0,483.3 829.9,484.6 832.7,485.5 835.3,486.3 837.7,486.9 840.1,487.5 842.5,488.1 844.9,488.6 847.2,489.2 849.6,489.8 852.1,490.4 854.5,491.0 856.9,491.6 859.3,492.2 861.7,492.8 864.1,493.4 866.5,494.0 868.9,494.6 871.3,495.2 873.7,495.9 876.1,496.5 878.5,497.1 881.0,497.7 883.4,498.3 885.8,498.9 888.2,499.5 890.7,500.1 893.1,500.6 895.5,501.1 897.9,501.6 900.3,502.1 902.8,502.6 905.2,503.0 907.6,503.4 910.0,503.8 912.4,504.2 914.8,504.5 917.3,504.8 919.7,505.1 922.1,505.4 924.6,505.6 927.0,505.8 929.4,506.0 931.9,506.2 934.3,506.3 936.7,506.4 939.1,506.5 941.6,506.6 944.0,506.6 946.4,506.6 948.8,506.6 951.2,506.6 953.6,506.6 956.1,506.5 958.5,506.4 960.9,506.3 963.3,506.1 965.8,505.9 968.1,505.7 970.5,505.5 973.0,505.2 975.4,504.8 978.0,504.4 980.7,503.9 983.5,503.4 986.4,502.8 989.3,502.2 992.2,501.6 994.9,500.9 997.5,500.1 1000.0,499.3 1002.4,498.5 1004.8,497.7 1007.2,496.8 1009.6,495.9 1012.0,495.0 1014.4,494.1 1016.8,493.1 1019.2,492.1 1021.7,491.1 1024.1,490.1 1026.5,489.0 1028.9,487.8 1031.3,486.7 1033.8,485.5 1036.2,484.3 1038.6,483.0 1041.0,481.7 1043.4,480.4 1045.9,479.1 1048.3,477.7 1050.7,476.4 1053.2,475.0 1055.6,473.6 1058.0,472.1 1060.4,470.7 1062.8,469.2 1065.2,467.7 1067.6,466.2 1070.1,464.6 1072.5,463.0 1074.9,461.3 1077.3,459.7 1079.7,458.1 1082.1,456.7 1084.5,455.3 1086.8,453.9 1089.2,452.7 1091.5,451.5 1093.9,450.4 1096.2,449.5 1098.5,448.7 1100.8,448.0 1103.1,447.5 1105.5,447.0 1107.8,446.5 1110.2,446.1 1112.4,445.7 1114.4,445.5 1116.4,445.2 1118.6,445.1 1121.3,444.9 1124.5,444.7 1128.5,444.6 1133.1,444.4 1138.1,444.3 1143.3,444.2 1148.4,444.1 1153.2,444.0 1158.0,444.0 1163.1,443.9 1168.1,443.9 1172.7,443.9 1176.6,443.8 1179.4,443.8 1179.4,440.0 1176.6,440.0 1172.7,440.0 1168.1,440.0 1163.1,440.1 1158.0,440.1 1153.2,440.2 1148.4,440.3 1143.2,440.3 1138.0,440.5 1133.0,440.6 1128.3,440.7 1124.3,440.9 1121.0,441.0 1118.4,441.2 1116.1,441.4 1114.0,441.6 1111.9,441.9 1109.6,442.3 1107.2,442.7 1104.7,443.2 1102.3,443.7 1099.8,444.3 1097.3,445.0 1094.8,445.9 1092.3,446.9 1089.9,448.0 1087.4,449.3 1085.0,450.6 1082.6,451.9 1080.1,453.3 1077.7,454.9 1075.2,456.5 1072.8,458.1 1070.3,459.8 1067.9,461.4 1065.6,463.0 1063.2,464.5 1060.8,466.0 1058.4,467.4 1056.0,468.8 1053.6,470.2 1051.2,471.6 1048.8,473.0 1046.4,474.4 1044.0,475.7 1041.6,477.0 1039.2,478.3 1036.8,479.6 1034.4,480.8 1032.0,482.0 1029.6,483.2 1027.3,484.4 1024.9,485.5 1022.5,486.5 1020.1,487.6 1017.8,488.6 1015.4,489.5 1013.0,490.5 1010.6,491.4 1008.2,492.3 1005.8,493.2 1003.5,494.0 1001.2,494.9 998.8,495.7 996.4,496.4 993.9,497.1 991.3,497.8 988.5,498.5 985.7,499.1 982.8,499.6 980.0,500.1 977.4,500.6 974.9,501.0 972.4,501.3 970.1,501.6 967.8,501.9 965.4,502.1 963.1,502.3 960.7,502.4 958.3,502.6 955.9,502.7 953.6,502.7 951.2,502.8 948.8,502.8 946.4,502.8 944.0,502.8 941.6,502.7 939.3,502.7 936.9,502.6 934.5,502.5 932.1,502.3 929.7,502.2 927.3,502.0 924.9,501.8 922.5,501.5 920.1,501.3 917.7,501.0 915.4,500.7 913.0,500.4 910.6,500.0 908.2,499.6 905.8,499.2 903.4,498.8 901.1,498.3 898.7,497.9 896.3,497.4 893.9,496.9 891.5,496.3 889.1,495.8 886.7,495.2 884.3,494.6 881.9,494.0 879.5,493.3 877.1,492.7 874.7,492.1 872.3,491.5 869.9,490.9 867.5,490.3 865.1,489.6 862.7,489.0 860.3,488.4 857.8,487.8 855.4,487.2 853.0,486.6 850.6,486.0 848.2,485.4 845.8,484.9 843.4,484.3 841.0,483.8 838.7,483.2 836.3,482.6 833.9,481.9 831.2,481.0 828.1,480.2 824.9,479.4 821.9,478.6 819.4,477.9 817.6,477.5Z" fill="#DD2616"/>
<path d="M950.8,597.6 951.5,598.0 952.5,598.5 953.6,599.1 955.1,599.8 956.8,600.4 958.9,601.1 961.3,601.6 964.3,601.8 967.4,602.0 970.6,602.2 973.7,602.3 976.3,602.4 978.5,602.6 980.4,602.6 982.1,602.7 983.9,602.8 985.8,602.8 988.0,602.7 990.7,602.7 993.6,602.6 996.7,602.4 999.9,602.3 1002.8,602.1 1005.5,601.9 1007.9,601.6 1010.1,601.3 1012.1,601.0 1014.0,600.5 1015.7,600.0 1017.1,599.5 1018.4,599.0 1019.6,598.5 1020.5,598.0 1021.2,597.6 1021.8,597.3 1022.3,597.0 1021.8,595.9 1021.3,596.1 1020.7,596.2 1019.9,596.4 1018.9,596.6 1017.9,596.8 1016.6,596.9 1015.1,597.0 1013.4,597.1 1011.5,597.2 1009.6,597.5 1007.4,597.8 1005.1,598.0 1002.5,598.2 999.6,598.4 996.5,598.6 993.5,598.7 990.5,598.8 987.9,598.9 985.8,598.9 983.9,598.9 982.3,598.9 980.6,598.8 978.7,598.7 976.5,598.6 973.9,598.5 970.8,598.3 967.6,598.1 964.5,598.0 961.7,597.7 959.3,597.7 957.4,597.6 955.7,597.4 954.3,597.2 953.0,596.9 952.0,596.7 951.2,596.5Z" fill="#DD2616"/>
<path d="M1174.3,478.5L1180.1,472.5L1180.1,468.1L1176.1,472.2L1176.1,448L1172.5,448L1172.5,472.2L1168.5,468.1L1168.5,472.5Z" fill="#DD2616"/>
<path d="M987.4,640.2L993.2,634.2L993.2,629.8L989.2,633.9L989.2,609.8L985.6,609.8L985.6,633.9L981.6,629.8L981.6,634.2Z" fill="#DD2616"/>
<rect x="792.1" y="391.2" width="387.9" height="275.6" fill="none" stroke="#000" stroke-width="2"/>
<path d="M792.1,516.5h5.2 M1180,516.5h-5.2 M792.1,641.7h5.2 M1180,641.7h-5.2 M986,391.2v5.2 M986,666.8v-5.2" stroke="#000" stroke-width="2" fill="none"/>
</g>
<text transform="translate(938.5,382.4) scale(0.972,1)" font-size="27.3" text-anchor="start" fill="#000" ><tspan font-style="italic">d/a</tspan> = 0.73</text>
<g>
<path d="M1610.6,391.2 L1223,391.2 L1223,424.8 L1230.4,424 L1235.4,422.9 L1240.8,421.4 L1245.9,419.7 L1251.3,417.7 L1256.3,415.4 L1261.6,413.2 L1266.8,411.3 L1275.3,413.4 L1283.5,415.7 L1291.2,417.8 L1299.4,419.4 L1307.5,421 L1315.2,422.2 L1331.5,423.9 L1339.3,424.3 L1358.7,424.8 L1416.8,424.8 L1474.9,424.8 L1494.3,424.3 L1502.1,423.9 L1518.4,422.2 L1526.1,421 L1534.2,419.4 L1542.4,417.8 L1550.1,415.7 L1558.3,413.4 L1566.8,411.3 L1572,413.2 L1577.3,415.4 L1582.3,417.7 L1587.7,419.7 L1592.8,421.4 L1598.2,422.9 L1603.2,424 L1610.6,424.8 Z" fill="#FFF7E6"/>
<path d="M1286.4,391.2L1262.3,408L1237.9,391.2Z" fill="#fff"/>
<path d="M1547.2,391.2L1571.3,408L1595.7,391.2Z" fill="#fff"/>
<path d="M1223,472.1L1229.5,472.5L1235.9,473.7L1242.4,475.7L1248.8,478.5L1255.3,482L1261.8,486.2L1268.2,491L1274.7,496.3L1281.1,502.2L1287.6,508.4L1294.1,515L1300.5,521.8L1307,528.8L1313.4,535.8L1319.9,542.9L1326.4,549.9L1332.8,556.7L1339.3,563.3L1345.7,569.6L1352.2,575.5L1358.7,581.1L1365.1,586.2L1371.6,590.8L1378,594.8L1384.5,598.3L1391,601.2L1397.4,603.4L1403.9,605.1L1410.3,606.1L1416.8,606.4L1423.3,606.1L1429.7,605.1L1436.2,603.4L1442.6,601.2L1449.1,598.3L1455.6,594.8L1462,590.8L1468.5,586.2L1474.9,581.1L1481.4,575.5L1487.9,569.6L1494.3,563.3L1500.8,556.7L1507.2,549.9L1513.7,542.9L1520.2,535.8L1526.6,528.8L1533.1,521.8L1539.5,515L1546,508.4L1552.5,502.2L1558.9,496.3L1565.4,491L1571.8,486.2L1578.3,482L1584.8,478.5L1591.2,475.7L1597.7,473.7L1604.1,472.5L1610.6,472.1L1610.6,607.1L1606.8,607.5L1603.1,608.4L1599.3,610L1595.6,612.3L1591.8,615.1L1588.1,618.6L1584.3,622.7L1580.6,627.4L1576.8,632.6L1573.1,638.4L1569.3,644.8L1565.6,651.6L1561.8,658.9L1558.1,666.7L1275.5,666.7L1271.8,658.9L1268,651.6L1264.3,644.8L1260.5,638.4L1256.8,632.6L1253,627.4L1249.3,622.7L1245.5,618.6L1241.8,615.1L1238,612.3L1234.3,610L1230.5,608.4L1226.8,607.5L1223,607.1Z" fill="#FFF7E6"/>
<path d="M1420.3,426.0 1421.7,426.0 1423.6,426.1 1425.8,426.1 1428.2,426.2 1430.7,426.3 1433.0,426.4 1435.2,426.5 1437.5,426.6 1439.7,426.7 1442.0,426.9 1444.3,427.1 1446.5,427.3 1448.7,427.6 1451.0,427.9 1453.2,428.2 1455.5,428.6 1457.7,428.9 1460.0,429.3 1462.2,429.7 1464.5,430.1 1466.7,430.6 1468.9,431.0 1471.2,431.4 1473.4,431.9 1475.7,432.4 1477.9,432.9 1480.2,433.3 1482.4,433.8 1484.7,434.4 1486.9,434.9 1489.2,435.4 1491.4,435.9 1493.7,436.4 1495.9,436.9 1498.1,437.5 1500.4,438.0 1502.6,438.6 1504.9,439.2 1507.2,439.7 1509.4,440.3 1511.7,440.9 1514.0,441.5 1516.2,442.1 1518.5,442.7 1520.8,443.3 1523.0,443.9 1525.3,444.5 1527.5,445.1 1529.8,445.7 1532.0,446.3 1534.3,447.0 1536.5,447.6 1538.7,448.3 1541.0,448.9 1543.2,449.6 1545.5,450.3 1547.8,451.0 1550.0,451.7 1552.3,452.5 1554.5,453.2 1556.8,454.0 1559.1,454.8 1561.3,455.5 1563.6,456.3 1565.8,457.2 1568.1,458.0 1570.3,458.9 1572.5,459.7 1574.8,460.6 1577.0,461.6 1579.3,462.5 1581.5,463.4 1583.9,464.3 1586.2,465.2 1588.6,466.2 1590.9,467.1 1593.1,468.0 1595.1,468.8 1597.0,469.6 1598.7,470.3 1600.4,471.1 1602.0,471.8 1603.4,472.4 1604.7,472.9 1605.9,473.3 1606.9,473.5 1607.8,473.6 1608.4,473.7 1608.9,473.7 1609.2,473.7 1609.6,469.9 1609.1,469.8 1608.7,469.8 1608.2,469.8 1607.6,469.7 1606.9,469.6 1606.0,469.3 1604.9,468.8 1603.5,468.3 1602.0,467.6 1600.3,466.8 1598.5,466.0 1596.6,465.2 1594.5,464.4 1592.3,463.5 1590.0,462.6 1587.6,461.7 1585.3,460.7 1583.0,459.8 1580.7,458.9 1578.5,458.0 1576.2,457.1 1574.0,456.2 1571.7,455.3 1569.4,454.4 1567.2,453.6 1564.9,452.7 1562.6,451.9 1560.3,451.1 1558.0,450.3 1555.8,449.6 1553.5,448.8 1551.2,448.1 1548.9,447.4 1546.6,446.6 1544.4,445.9 1542.1,445.3 1539.8,444.6 1537.6,443.9 1535.3,443.3 1533.1,442.6 1530.8,442.0 1528.6,441.4 1526.3,440.7 1524.0,440.1 1521.7,439.6 1519.5,439.0 1517.2,438.4 1514.9,437.8 1512.7,437.2 1510.4,436.6 1508.1,436.0 1505.9,435.4 1503.6,434.8 1501.3,434.3 1499.0,433.7 1496.8,433.2 1494.5,432.7 1492.3,432.1 1490.0,431.6 1487.8,431.2 1485.5,430.7 1483.2,430.2 1480.9,429.8 1478.6,429.3 1476.4,428.9 1474.1,428.4 1471.8,428.0 1469.6,427.6 1467.3,427.2 1465.0,426.8 1462.8,426.4 1460.5,426.1 1458.2,425.7 1456.0,425.4 1453.7,425.1 1451.4,424.8 1449.1,424.5 1446.8,424.3 1444.5,424.1 1442.2,424.0 1439.9,423.9 1437.6,423.8 1435.3,423.7 1433.1,423.6 1430.8,423.6 1428.3,423.5 1425.8,423.5 1423.6,423.5 1421.7,423.5 1420.3,423.5Z" fill="#3D42A6"/>
<path d="M1224,471.5h1.8" stroke="#3D42A6" stroke-width="1.8" stroke-opacity="0.8" fill="none"/>
<path d="M1246.8,477.2 1248.1,477.2 1249.7,477.2 1251.7,477.3 1253.9,477.3 1256.2,477.4 1258.4,477.4 1260.7,477.4 1263.0,477.2 1265.5,477.0 1267.9,476.8 1270.4,476.6 1272.8,476.4 1275.2,476.2 1277.7,476.1 1280.1,475.9 1282.5,475.8 1284.9,475.7 1287.3,475.5 1289.5,475.4 1291.6,475.3 1293.6,475.2 1295.8,475.1 1298.4,475.0 1301.7,474.9 1305.6,474.8 1310.2,474.7 1315.2,474.5 1320.4,474.4 1325.6,474.2 1330.5,474.1 1335.4,474.0 1340.2,473.9 1345.0,473.9 1349.8,473.8 1354.6,473.7 1359.4,473.6 1364.3,473.5 1369.3,473.5 1374.3,473.4 1379.2,473.3 1383.8,473.2 1388.2,473.1 1392.4,473.0 1396.3,473.0 1400.0,472.9 1403.6,472.8 1406.9,472.7 1410.1,472.6 1412.9,472.5 1415.4,472.4 1417.8,472.3 1420.0,472.2 1422.2,472.0 1424.6,471.8 1427.0,471.6 1429.4,471.4 1431.9,471.1 1434.3,470.9 1436.7,470.6 1439.1,470.3 1441.5,470.0 1444.0,469.7 1446.4,469.4 1448.8,469.0 1451.2,468.7 1453.6,468.3 1456.0,467.9 1458.4,467.6 1460.8,467.2 1463.2,466.8 1465.7,466.4 1468.1,465.9 1470.6,465.3 1473.0,464.7 1475.5,464.0 1477.9,463.3 1480.4,462.6 1482.8,461.7 1485.3,460.8 1487.7,459.9 1490.2,458.8 1492.6,457.7 1495.1,456.6 1497.5,455.3 1500.0,453.9 1502.5,452.4 1504.9,450.8 1507.3,449.2 1509.7,447.6 1512.2,446.0 1514.6,444.5 1517.0,442.9 1519.4,441.3 1521.8,439.7 1524.2,438.2 1526.5,436.6 1529.0,435.0 1531.4,433.5 1533.7,431.9 1536.1,430.4 1538.5,428.9 1540.9,427.5 1543.3,426.1 1545.8,424.7 1548.2,423.4 1550.7,422.1 1553.0,420.9 1555.2,419.7 1557.3,418.4 1559.4,417.2 1561.5,416.0 1563.4,414.9 1565.0,414.0 1566.1,413.3 1565.7,412.3 1564.4,412.7 1562.7,413.3 1560.6,414.0 1558.3,414.8 1556.0,415.6 1553.6,416.5 1551.3,417.5 1548.9,418.7 1546.4,420.0 1543.9,421.3 1541.4,422.7 1538.9,424.1 1536.5,425.6 1534.1,427.1 1531.6,428.7 1529.2,430.3 1526.8,431.8 1524.5,433.4 1522.1,434.9 1519.6,436.5 1517.2,438.1 1514.9,439.7 1512.5,441.2 1510.0,442.8 1507.6,444.4 1505.2,446.0 1502.8,447.6 1500.4,449.1 1498.0,450.6 1495.7,451.9 1493.3,453.1 1491.0,454.3 1488.6,455.3 1486.3,456.3 1483.9,457.2 1481.6,458.1 1479.2,458.9 1476.8,459.7 1474.4,460.3 1472.0,461.0 1469.7,461.6 1467.3,462.1 1464.9,462.6 1462.6,463.0 1460.2,463.4 1457.8,463.8 1455.4,464.1 1453.0,464.5 1450.6,464.9 1448.2,465.2 1445.8,465.5 1443.5,465.9 1441.1,466.2 1438.7,466.5 1436.3,466.8 1433.9,467.0 1431.4,467.3 1429.0,467.6 1426.6,467.8 1424.2,468.0 1421.9,468.2 1419.7,468.3 1417.5,468.4 1415.3,468.6 1412.7,468.7 1409.9,468.8 1406.8,468.9 1403.5,469.0 1400.0,469.0 1396.2,469.1 1392.3,469.2 1388.2,469.3 1383.8,469.4 1379.1,469.4 1374.2,469.5 1369.2,469.6 1364.3,469.7 1359.4,469.8 1354.6,469.9 1349.7,469.9 1344.9,470.0 1340.1,470.1 1335.3,470.2 1330.5,470.3 1325.5,470.4 1320.3,470.5 1315.1,470.7 1310.1,470.8 1305.5,471.0 1301.5,471.1 1298.3,471.2 1295.7,471.3 1293.4,471.4 1291.4,471.5 1289.3,471.6 1287.1,471.7 1284.7,471.8 1282.3,471.9 1279.8,472.1 1277.4,472.2 1275.0,472.4 1272.6,472.6 1270.1,472.8 1267.6,473.0 1265.1,473.2 1262.7,473.4 1260.4,473.6 1258.2,474.0 1256.0,474.4 1253.7,474.7 1251.6,475.1 1249.6,475.4 1248.0,475.6 1246.8,475.8Z" fill="#DD2616"/>
<path d="M1255.8,481.2 1256.7,481.8 1257.9,482.6 1259.4,483.6 1261.1,484.6 1263.0,485.7 1264.9,486.7 1267.0,487.7 1269.4,488.6 1271.9,489.4 1274.4,490.1 1277.0,490.9 1279.5,491.6 1281.9,492.4 1284.3,493.1 1286.7,493.7 1289.1,494.4 1291.5,495.1 1293.9,495.7 1296.3,496.4 1298.6,497.2 1301.0,497.9 1303.5,498.6 1305.9,499.3 1308.3,500.0 1310.7,500.6 1313.1,501.2 1315.6,501.9 1318.0,502.5 1320.4,503.1 1322.8,503.7 1325.3,504.3 1327.7,504.8 1330.1,505.4 1332.5,505.9 1334.9,506.5 1337.3,507.0 1339.7,507.5 1342.1,508.0 1344.5,508.5 1346.9,509.0 1349.4,509.4 1351.8,509.8 1354.2,510.2 1356.7,510.5 1359.1,510.8 1361.6,511.1 1364.0,511.4 1366.4,511.6 1368.9,511.8 1371.3,512.0 1373.7,512.1 1376.1,512.2 1378.5,512.3 1381.0,512.3 1383.4,512.4 1385.8,512.4 1388.3,512.3 1390.7,512.3 1393.2,512.2 1395.6,512.1 1398.0,512.0 1400.4,511.8 1402.9,511.7 1405.3,511.5 1407.7,511.2 1410.1,510.9 1412.6,510.6 1415.0,510.2 1417.5,509.8 1419.9,509.4 1422.4,508.9 1424.9,508.3 1427.3,507.6 1429.8,506.9 1432.3,506.1 1434.7,505.2 1437.1,504.4 1439.6,503.5 1442.0,502.6 1444.4,501.6 1446.8,500.6 1449.2,499.7 1451.6,498.7 1454.0,497.7 1456.4,496.7 1458.8,495.7 1461.2,494.7 1463.6,493.7 1466.0,492.8 1468.4,491.9 1470.8,491.0 1473.2,490.2 1475.6,489.4 1478.0,488.6 1480.3,487.8 1482.7,487.2 1485.1,486.5 1487.5,485.9 1489.8,485.4 1492.2,484.9 1494.5,484.4 1496.9,484.0 1499.3,483.6 1501.7,483.3 1504.1,483.0 1506.5,482.8 1508.9,482.5 1511.3,482.3 1513.7,482.1 1516.0,481.9 1518.4,481.8 1520.8,481.7 1523.2,481.5 1525.6,481.4 1528.0,481.3 1530.4,481.2 1532.8,481.1 1535.2,481.1 1537.5,481.0 1539.9,480.9 1542.3,480.9 1544.8,480.8 1547.2,480.8 1549.6,480.8 1552.0,480.8 1554.4,480.7 1556.8,480.7 1559.2,480.6 1561.6,480.5 1564.0,480.4 1566.4,480.3 1568.9,480.2 1571.7,480.0 1574.7,479.5 1577.7,479.0 1580.6,478.6 1583.0,478.2 1584.7,477.9 1584.7,476.7 1582.9,476.7 1580.5,476.6 1577.6,476.5 1574.5,476.4 1571.4,476.3 1568.7,476.4 1566.2,476.5 1563.8,476.6 1561.4,476.7 1559.1,476.7 1556.7,476.8 1554.4,476.9 1552.0,476.9 1549.5,477.0 1547.1,477.0 1544.7,477.0 1542.3,477.0 1539.9,477.1 1537.4,477.1 1535.0,477.2 1532.6,477.3 1530.2,477.4 1527.8,477.5 1525.4,477.6 1523.0,477.7 1520.6,477.8 1518.2,478.0 1515.8,478.1 1513.4,478.3 1510.9,478.5 1508.5,478.7 1506.1,478.9 1503.6,479.2 1501.2,479.5 1498.7,479.8 1496.3,480.2 1493.8,480.6 1491.4,481.1 1489.0,481.6 1486.6,482.2 1484.1,482.8 1481.7,483.4 1479.2,484.2 1476.8,484.9 1474.3,485.7 1471.9,486.5 1469.5,487.4 1467.0,488.3 1464.6,489.2 1462.2,490.2 1459.8,491.2 1457.4,492.2 1455.0,493.1 1452.6,494.1 1450.2,495.1 1447.8,496.1 1445.4,497.1 1443.0,498.1 1440.6,499.0 1438.2,499.9 1435.8,500.8 1433.4,501.6 1431.1,502.4 1428.7,503.2 1426.3,503.9 1423.9,504.5 1421.6,505.1 1419.2,505.6 1416.8,506.0 1414.4,506.4 1412.0,506.8 1409.7,507.1 1407.3,507.4 1404.9,507.6 1402.5,507.8 1400.2,508.0 1397.8,508.2 1395.4,508.3 1393.0,508.4 1390.6,508.4 1388.2,508.5 1385.8,508.5 1383.4,508.5 1381.0,508.5 1378.6,508.4 1376.3,508.4 1373.9,508.3 1371.5,508.1 1369.1,508.0 1366.8,507.8 1364.4,507.6 1362.0,507.3 1359.6,507.0 1357.2,506.7 1354.8,506.4 1352.4,506.0 1350.0,505.6 1347.6,505.2 1345.3,504.7 1342.9,504.2 1340.5,503.7 1338.1,503.2 1335.7,502.7 1333.3,502.2 1330.9,501.6 1328.5,501.1 1326.2,500.5 1323.8,499.9 1321.3,499.3 1318.9,498.7 1316.5,498.1 1314.1,497.5 1311.7,496.9 1309.3,496.2 1306.9,495.6 1304.5,494.9 1302.1,494.2 1299.7,493.5 1297.3,492.8 1294.9,492.1 1292.5,491.4 1290.1,490.7 1287.7,490.0 1285.3,489.3 1282.9,488.7 1280.5,488.0 1278.1,487.2 1275.5,486.5 1273.0,485.7 1270.6,484.9 1268.2,484.3 1266.1,483.7 1264.1,483.1 1262.2,482.4 1260.4,481.7 1258.8,481.0 1257.4,480.4 1256.4,480.0Z" fill="#DD2616"/>
<path d="M1223.7,627.3 1225.1,627.3 1227.1,627.3 1229.4,627.3 1231.9,627.3 1234.4,627.3 1236.7,627.3 1238.9,627.3 1241.2,627.3 1243.4,627.2 1245.5,627.2 1247.3,626.9 1248.7,626.6 1249.6,626.5 1250.1,626.5 1250.2,626.5 1250.2,626.5 1250.4,626.7 1250.6,626.8 1251.6,625.6 1251.6,625.6 1251.5,625.5 1251.2,625.1 1250.7,624.7 1249.9,624.4 1248.9,624.1 1247.4,623.8 1245.5,623.4 1243.4,623.4 1241.1,623.4 1238.8,623.4 1236.7,623.4 1234.4,623.4 1231.9,623.4 1229.4,623.4 1227.1,623.4 1225.1,623.4 1223.7,623.4Z" fill="#DD2616"/>
<path d="M1583.3,626.2 1583.8,626.3 1584.3,626.3 1584.9,626.4 1585.9,626.5 1587.2,626.6 1589.1,626.9 1591.9,627.3 1595.6,627.3 1599.8,627.3 1603.9,627.3 1607.4,627.3 1609.9,627.3 1609.9,623.4 1607.4,623.4 1603.9,623.4 1599.8,623.4 1595.6,623.4 1591.9,623.4 1589.0,623.8 1587.1,624.2 1585.8,624.4 1584.8,624.7 1584.2,624.8 1583.7,625.0 1583.2,625.1Z" fill="#DD2616"/>
<path d="M1428.4,551.9L1434.2,545.9L1434.2,541.5L1430.2,545.6L1430.2,520.6L1426.6,520.6L1426.6,545.6L1422.6,541.5L1422.6,545.9Z" fill="#DD2616"/>
<path d="M1246.2,662.5L1252,656.5L1252,652.1L1248,656.2L1248,631.4L1244.4,631.4L1244.4,656.2L1240.4,652.1L1240.4,656.5Z" fill="#DD2616"/>
<rect x="1223" y="391.2" width="387.6" height="275.6" fill="none" stroke="#000" stroke-width="2"/>
<path d="M1223,516.5h5.2 M1610.6,516.5h-5.2 M1223,641.7h5.2 M1610.6,641.7h-5.2 M1416.8,391.2v5.2 M1416.8,666.8v-5.2" stroke="#000" stroke-width="2" fill="none"/>
</g>
<text transform="translate(1363.7,382.4) scale(0.972,1)" font-size="27.3" text-anchor="start" fill="#000" ><tspan font-style="italic">d/a</tspan> = 0.735</text>
<text transform="translate(351.9,399.6) scale(0.968,1)" font-size="28.4" text-anchor="end" fill="#000" >2.5</text>
<text transform="translate(346.4,524.9) scale(0.968,1)" font-size="28.4" text-anchor="end" fill="#000" >2</text>
<text transform="translate(351.9,650.1) scale(0.968,1)" font-size="28.4" text-anchor="end" fill="#000" >1.5</text>
<text transform="translate(306.2,507.1) rotate(-90)" font-size="27.6" text-anchor="middle" textLength="203.6" lengthAdjust="spacingAndGlyphs" fill="#000">Frequency (GHz)</text>
<g>
<path d="M744.4,767.3 L357.3,767.3 L357.3,800.9 L364.7,800.1 L369.7,799 L375.1,797.5 L380.1,795.8 L385.6,793.8 L390.6,791.5 L395.8,789.3 L401,787.4 L409.6,789.5 L417.7,791.8 L425.4,793.9 L433.6,795.5 L441.7,797.1 L449.4,798.3 L465.7,800 L473.4,800.4 L492.8,800.9 L550.9,800.9 L608.9,800.9 L628.3,800.4 L636,800 L652.3,798.3 L660,797.1 L668.1,795.5 L676.3,793.9 L684,791.8 L692.1,789.5 L700.7,787.4 L705.9,789.3 L711.1,791.5 L716.1,793.8 L721.6,795.8 L726.6,797.5 L732,799 L737,800.1 L744.4,800.9 Z" fill="#FFF7E6"/>
<path d="M420.6,767.3L396.6,784.1L372.2,767.3Z" fill="#fff"/>
<path d="M681.1,767.3L705.1,784.1L729.5,767.3Z" fill="#fff"/>
<path d="M357.3,848.2L363.8,848.6L370.2,849.8L376.7,851.8L383.1,854.6L389.6,858.1L396,862.3L402.5,867.1L408.9,872.4L415.4,878.3L421.8,884.5L428.3,891.1L434.7,897.9L441.2,904.9L447.6,911.9L454.1,919L460.5,926L467,932.8L473.4,939.4L479.9,945.7L486.3,951.6L492.8,957.2L499.2,962.3L505.7,966.9L512.1,970.9L518.6,974.4L525,977.3L531.5,979.5L537.9,981.2L544.4,982.2L550.9,982.5L557.3,982.2L563.8,981.2L570.2,979.5L576.7,977.3L583.1,974.4L589.6,970.9L596,966.9L602.5,962.3L608.9,957.2L615.4,951.6L621.8,945.7L628.3,939.4L634.7,932.8L641.2,926L647.6,919L654.1,911.9L660.5,904.9L667,897.9L673.4,891.1L679.9,884.5L686.3,878.3L692.8,872.4L699.2,867.1L705.7,862.3L712.1,858.1L718.6,854.6L725,851.8L731.5,849.8L737.9,848.6L744.4,848.2L744.4,983.2L740.7,983.6L736.9,984.5L733.2,986.1L729.4,988.4L725.7,991.2L721.9,994.7L718.2,998.8L714.4,1003.5L710.7,1008.7L706.9,1014.5L703.2,1020.9L699.4,1027.7L695.7,1035L691.9,1042.8L409.8,1042.8L406,1035L402.3,1027.7L398.5,1020.9L394.8,1014.5L391,1008.7L387.3,1003.5L383.5,998.8L379.8,994.7L376,991.2L372.3,988.4L368.5,986.1L364.8,984.5L361,983.6L357.3,983.2Z" fill="#FFF7E6"/>
<path d="M554.4,802.1 555.8,802.1 557.7,802.2 559.9,802.2 562.3,802.3 564.8,802.4 567.1,802.5 569.3,802.6 571.5,802.7 573.8,802.8 576.0,803.0 578.3,803.2 580.6,803.4 582.8,803.7 585.0,804.0 587.3,804.3 589.5,804.7 591.8,805.0 594.0,805.4 596.3,805.8 598.5,806.2 600.7,806.6 603.0,807.1 605.2,807.5 607.5,808.0 609.7,808.5 612.0,809.0 614.2,809.4 616.5,809.9 618.7,810.5 621.0,811.0 623.2,811.5 625.5,812.0 627.7,812.5 630.0,813.0 632.2,813.6 634.4,814.1 636.7,814.7 638.9,815.3 641.2,815.8 643.5,816.4 645.7,817.0 648.0,817.6 650.3,818.2 652.6,818.8 654.8,819.4 657.1,820.0 659.3,820.6 661.6,821.2 663.8,821.8 666.1,822.4 668.3,823.1 670.6,823.7 672.8,824.4 675.0,825.0 677.3,825.7 679.6,826.4 681.8,827.1 684.1,827.8 686.3,828.6 688.6,829.3 690.8,830.1 693.1,830.9 695.4,831.6 697.6,832.4 699.9,833.3 702.1,834.1 704.4,835.0 706.6,835.8 708.8,836.7 711.1,837.7 713.3,838.6 715.6,839.5 717.9,840.4 720.3,841.3 722.6,842.3 725.0,843.2 727.2,844.1 729.2,844.9 731.0,845.7 732.8,846.4 734.5,847.2 736.0,847.9 737.5,848.5 738.8,849.0 739.9,849.4 741.0,849.6 741.8,849.7 742.5,849.8 742.9,849.8 743.3,849.8 743.6,846.0 743.2,845.9 742.7,845.9 742.2,845.9 741.6,845.8 740.9,845.7 740.0,845.4 738.9,844.9 737.6,844.4 736.0,843.7 734.4,842.9 732.5,842.1 730.6,841.3 728.6,840.5 726.4,839.6 724.1,838.7 721.7,837.8 719.3,836.8 717.0,835.9 714.8,835.0 712.5,834.1 710.3,833.2 708.0,832.3 705.8,831.4 703.5,830.5 701.2,829.7 698.9,828.8 696.6,828.0 694.4,827.2 692.1,826.4 689.8,825.7 687.5,824.9 685.3,824.2 683.0,823.5 680.7,822.7 678.4,822.0 676.2,821.4 673.9,820.7 671.6,820.0 669.4,819.4 667.1,818.7 664.9,818.1 662.6,817.5 660.3,816.8 658.1,816.2 655.8,815.7 653.5,815.1 651.2,814.5 649.0,813.9 646.7,813.3 644.5,812.7 642.2,812.1 639.9,811.5 637.6,810.9 635.4,810.4 633.1,809.8 630.8,809.3 628.6,808.8 626.3,808.2 624.1,807.7 621.8,807.3 619.5,806.8 617.3,806.3 615.0,805.9 612.7,805.4 610.4,805.0 608.1,804.5 605.9,804.1 603.6,803.7 601.4,803.3 599.1,802.9 596.8,802.5 594.6,802.2 592.3,801.8 590.0,801.5 587.7,801.2 585.4,800.9 583.1,800.6 580.8,800.4 578.5,800.2 576.2,800.1 573.9,800.0 571.6,799.9 569.4,799.8 567.1,799.7 564.8,799.7 562.4,799.6 559.9,799.6 557.7,799.6 555.8,799.6 554.5,799.6Z" fill="#3D42A6"/>
<path d="M358.3,847.6h1.8" stroke="#3D42A6" stroke-width="1.8" stroke-opacity="0.8" fill="none"/>
<path d="M385.8,854.8 387.1,855.4 388.8,856.3 390.9,857.3 393.1,858.4 395.5,859.4 397.8,860.4 400.1,861.1 402.5,861.6 405.0,862.1 407.4,862.6 409.9,863.1 412.3,863.6 414.7,864.1 417.2,864.6 419.6,865.0 422.0,865.5 424.4,866.0 426.8,866.5 429.2,867.0 431.6,867.5 434.0,868.1 436.4,868.6 438.8,869.2 441.2,869.7 443.6,870.2 446.0,870.7 448.5,871.2 450.9,871.7 453.3,872.1 455.8,872.6 458.2,873.0 460.6,873.5 463.0,873.9 465.4,874.3 467.8,874.7 470.2,875.0 472.7,875.3 475.1,875.6 477.5,875.9 479.9,876.2 482.3,876.4 484.7,876.6 487.2,876.8 489.6,877.0 492.0,877.2 494.5,877.3 496.9,877.4 499.3,877.5 501.8,877.6 504.2,877.7 506.6,877.7 509.0,877.7 511.4,877.7 513.9,877.6 516.3,877.5 518.7,877.4 521.1,877.3 523.5,877.1 526.0,876.9 528.4,876.7 530.8,876.5 533.2,876.2 535.6,875.9 538.0,875.6 540.5,875.2 543.0,874.8 545.7,874.3 548.5,873.8 551.4,873.2 554.3,872.7 557.2,872.0 559.9,871.4 562.4,870.7 564.9,870.0 567.4,869.3 569.8,868.5 572.2,867.7 574.6,866.8 577.0,865.8 579.5,864.8 581.9,863.7 584.3,862.6 586.7,861.5 589.1,860.3 591.5,859.2 594.0,858.0 596.4,856.8 598.8,855.5 601.2,854.2 603.6,852.9 606.1,851.5 608.5,850.0 611.0,848.5 613.4,847.0 615.8,845.4 618.3,843.8 620.7,842.2 623.1,840.5 625.5,838.8 627.9,837.1 630.3,835.3 632.7,833.5 635.2,831.8 637.6,829.9 640.0,828.1 642.4,826.2 644.9,824.4 647.3,822.5 649.7,820.7 652.1,818.9 654.5,817.1 656.9,815.3 659.2,813.5 661.6,811.8 664.0,810.0 666.4,808.3 668.8,806.7 671.2,805.0 673.5,803.5 675.9,802.1 678.3,800.7 680.7,799.4 683.2,798.2 685.7,797.0 688.0,795.9 690.1,794.7 692.1,793.6 694.1,792.6 696.1,791.6 697.8,790.8 699.3,790.1 700.4,789.5 700.0,788.5 698.8,788.8 697.2,789.2 695.3,789.7 693.2,790.3 691.0,790.9 688.7,791.7 686.4,792.4 684.0,793.5 681.5,794.7 679.0,796.0 676.4,797.3 673.9,798.7 671.5,800.2 669.0,801.8 666.6,803.5 664.2,805.2 661.8,806.9 659.4,808.6 657.0,810.4 654.6,812.2 652.1,814.0 649.7,815.8 647.3,817.6 644.9,819.5 642.5,821.3 640.1,823.2 637.7,825.0 635.3,826.9 632.9,828.7 630.5,830.5 628.1,832.2 625.7,833.9 623.3,835.7 620.9,837.3 618.5,839.0 616.1,840.6 613.7,842.2 611.3,843.7 608.9,845.2 606.5,846.7 604.1,848.1 601.8,849.5 599.4,850.8 597.0,852.1 594.6,853.3 592.2,854.5 589.9,855.7 587.5,856.9 585.1,858.0 582.7,859.1 580.3,860.2 577.9,861.3 575.6,862.3 573.2,863.2 570.9,864.1 568.5,864.9 566.2,865.6 563.9,866.3 561.4,867.0 558.9,867.6 556.3,868.3 553.5,868.9 550.7,869.5 547.8,870.0 545.0,870.5 542.4,871.0 539.9,871.4 537.4,871.8 535.1,872.1 532.7,872.4 530.4,872.6 528.0,872.9 525.6,873.1 523.3,873.3 520.9,873.5 518.5,873.6 516.1,873.7 513.7,873.8 511.4,873.8 509.0,873.8 506.6,873.8 504.2,873.8 501.9,873.8 499.5,873.7 497.1,873.6 494.7,873.5 492.3,873.3 489.9,873.2 487.5,873.0 485.1,872.8 482.7,872.6 480.3,872.3 477.9,872.1 475.5,871.8 473.1,871.5 470.8,871.2 468.4,870.8 466.0,870.5 463.6,870.1 461.2,869.7 458.8,869.2 456.4,868.8 454.0,868.4 451.6,867.9 449.2,867.4 446.8,866.9 444.4,866.4 442.0,865.9 439.6,865.4 437.2,864.9 434.8,864.3 432.4,863.8 430.0,863.2 427.6,862.7 425.2,862.2 422.7,861.7 420.3,861.3 417.9,860.8 415.5,860.3 413.1,859.8 410.6,859.3 408.2,858.8 405.7,858.4 403.4,857.8 401.0,857.3 398.8,856.8 396.5,856.4 394.0,855.8 391.6,855.2 389.4,854.6 387.6,854.1 386.2,853.8Z" fill="#DD2616"/>
<path d="M431.3,892.1 432.3,892.6 433.6,893.2 435.3,893.9 437.1,894.7 439.2,895.4 441.3,895.8 443.5,896.1 445.9,896.3 448.4,896.6 451.0,896.7 453.5,896.9 455.9,897.1 458.3,897.3 460.7,897.5 463.1,897.7 465.5,897.9 467.9,898.1 470.4,898.3 472.8,898.5 475.2,898.7 477.6,898.8 480.0,899.0 482.4,899.2 484.8,899.3 487.2,899.5 489.6,899.6 492.0,899.8 494.5,899.9 496.9,900.0 499.3,900.1 501.7,900.2 504.1,900.3 506.5,900.4 508.9,900.5 511.4,900.6 513.8,900.6 516.2,900.7 518.6,900.7 521.0,900.7 523.4,900.7 525.8,900.7 528.2,900.6 530.6,900.6 533.0,900.5 535.4,900.4 537.8,900.3 540.2,900.1 542.8,900.0 545.5,899.9 548.3,899.7 551.2,899.6 554.0,899.4 556.8,899.3 559.5,899.1 561.9,899.0 564.0,898.8 566.0,898.7 568.2,898.5 570.8,898.4 574.0,898.1 578.0,897.8 582.6,897.5 587.5,897.1 592.7,896.7 597.9,896.3 602.8,896.0 607.6,895.7 612.4,895.5 617.2,895.2 622.1,895.0 626.9,894.7 631.7,894.5 636.7,894.3 642.0,894.1 647.3,894.0 652.3,893.8 656.8,893.7 660.6,893.5 663.5,893.3 665.7,893.0 667.4,892.7 668.7,892.5 669.8,892.3 670.6,892.2 670.6,890.2 669.7,890.2 668.6,890.1 667.3,890.0 665.6,889.8 663.3,889.7 660.4,889.7 656.7,889.8 652.2,889.9 647.2,890.1 641.9,890.3 636.6,890.5 631.5,890.7 626.7,890.9 621.9,891.1 617.0,891.4 612.2,891.6 607.4,891.9 602.6,892.2 597.6,892.5 592.4,892.9 587.3,893.3 582.3,893.6 577.7,894.0 573.8,894.3 570.5,894.5 568.0,894.7 565.8,894.9 563.7,895.0 561.7,895.1 559.3,895.3 556.6,895.4 553.8,895.6 550.9,895.8 548.1,895.9 545.3,896.0 542.6,896.2 540.1,896.3 537.6,896.4 535.2,896.5 532.9,896.6 530.5,896.7 528.2,896.8 525.8,896.8 523.4,896.8 521.0,896.8 518.6,896.8 516.2,896.8 513.8,896.8 511.4,896.7 509.1,896.7 506.7,896.6 504.3,896.5 501.9,896.4 499.5,896.3 497.1,896.2 494.7,896.0 492.3,895.9 489.8,895.8 487.4,895.6 485.0,895.5 482.6,895.3 480.2,895.2 477.8,895.0 475.4,894.8 473.0,894.7 470.6,894.5 468.3,894.3 465.9,894.1 463.5,893.9 461.1,893.7 458.7,893.5 456.3,893.3 453.8,893.1 451.3,892.9 448.7,892.7 446.3,892.5 444.0,892.3 441.9,892.0 439.9,891.6 437.9,891.4 436.0,891.2 434.3,891.0 432.8,890.8 431.7,890.7Z" fill="#DD2616"/>
<path d="M357.3,1040.9H409 M693,1040.9H744.4" stroke="#DD2616" stroke-width="3" fill="none"/>
<path d="M550.8,936.1L556.6,930.1L556.6,925.7L552.6,929.8L552.6,905.2L549,905.2L549,929.8L545,925.7L545,930.1Z" fill="#DD2616"/>
<rect x="357.3" y="767.3" width="387.1" height="275.6" fill="none" stroke="#000" stroke-width="2"/>
<path d="M357.3,892.5h5.2 M744.4,892.5h-5.2 M357.3,1017.8h5.2 M744.4,1017.8h-5.2 M550.9,767.3v5.2 M550.9,1042.9v-5.2" stroke="#000" stroke-width="2" fill="none"/>
</g>
<text transform="translate(503.2,758.8) scale(0.972,1)" font-size="27.3" text-anchor="start" fill="#000" ><tspan font-style="italic">d/a</tspan> = 0.74</text>
<g>
<path d="M1180,767.3 L792.1,767.3 L792.1,800.9 L799.5,800.1 L804.5,799 L809.9,797.5 L815,795.8 L820.4,793.8 L825.5,791.5 L830.7,789.3 L835.9,787.4 L844.5,789.5 L852.6,791.8 L860.4,793.9 L868.5,795.5 L876.7,797.1 L884.4,798.3 L900.7,800 L908.5,800.4 L927.9,800.9 L986,800.9 L1044.2,800.9 L1063.6,800.4 L1071.4,800 L1087.7,798.3 L1095.4,797.1 L1103.6,795.5 L1111.7,793.9 L1119.5,791.8 L1127.6,789.5 L1136.2,787.4 L1141.4,789.3 L1146.6,791.5 L1151.7,793.8 L1157.1,795.8 L1162.2,797.5 L1167.6,799 L1172.6,800.1 L1180,800.9 Z" fill="#FFF7E6"/>
<path d="M855.5,767.3L831.5,784.1L807,767.3Z" fill="#fff"/>
<path d="M1116.6,767.3L1140.6,784.1L1165.1,767.3Z" fill="#fff"/>
<path d="M792.1,848.2L798.6,848.6L805,849.8L811.5,851.8L818,854.6L824.4,858.1L830.9,862.3L837.4,867.1L843.8,872.4L850.3,878.3L856.8,884.5L863.2,891.1L869.7,897.9L876.1,904.9L882.6,911.9L889.1,919L895.5,926L902,932.8L908.5,939.4L914.9,945.7L921.4,951.6L927.9,957.2L934.3,962.3L940.8,966.9L947.3,970.9L953.7,974.4L960.2,977.3L966.7,979.5L973.1,981.2L979.6,982.2L986,982.5L992.5,982.2L999,981.2L1005.4,979.5L1011.9,977.3L1018.4,974.4L1024.8,970.9L1031.3,966.9L1037.8,962.3L1044.2,957.2L1050.7,951.6L1057.2,945.7L1063.6,939.4L1070.1,932.8L1076.6,926L1083,919L1089.5,911.9L1096,904.9L1102.4,897.9L1108.9,891.1L1115.3,884.5L1121.8,878.3L1128.3,872.4L1134.7,867.1L1141.2,862.3L1147.7,858.1L1154.1,854.6L1160.6,851.8L1167.1,849.8L1173.5,848.6L1180,848.2L1180,983.2L1176.2,983.6L1172.5,984.5L1168.7,986.1L1165,988.4L1161.2,991.2L1157.5,994.7L1153.7,998.8L1150,1003.5L1146.2,1008.7L1142.5,1014.5L1138.7,1020.9L1134.9,1027.7L1131.2,1035L1127.4,1042.8L844.7,1042.8L840.9,1035L837.2,1027.7L833.4,1020.9L829.6,1014.5L825.9,1008.7L822.1,1003.5L818.4,998.8L814.6,994.7L810.9,991.2L807.1,988.4L803.4,986.1L799.6,984.5L795.9,983.6L792.1,983.2Z" fill="#FFF7E6"/>
<path d="M990.0,802.1 991.4,802.2 993.2,802.2 995.3,802.2 997.6,802.3 1000.0,802.4 1002.3,802.5 1004.4,802.6 1006.7,802.7 1008.9,802.8 1011.2,803.0 1013.5,803.2 1015.8,803.4 1018.0,803.7 1020.2,804.0 1022.5,804.3 1024.7,804.7 1027.0,805.0 1029.2,805.4 1031.5,805.8 1033.7,806.2 1035.9,806.6 1038.2,807.1 1040.4,807.5 1042.7,808.0 1044.9,808.5 1047.2,809.0 1049.4,809.4 1051.7,809.9 1053.9,810.4 1056.2,811.0 1058.4,811.5 1060.7,812.0 1062.9,812.5 1065.2,813.0 1067.4,813.6 1069.6,814.1 1071.9,814.7 1074.1,815.3 1076.4,815.8 1078.7,816.4 1080.9,817.0 1083.2,817.6 1085.5,818.2 1087.8,818.8 1090.0,819.4 1092.3,820.0 1094.5,820.6 1096.8,821.2 1099.0,821.8 1101.3,822.4 1103.5,823.1 1105.8,823.7 1108.0,824.4 1110.2,825.0 1112.5,825.7 1114.8,826.4 1117.0,827.1 1119.3,827.8 1121.5,828.6 1123.8,829.3 1126.0,830.1 1128.3,830.9 1130.6,831.6 1132.8,832.4 1135.1,833.3 1137.3,834.1 1139.6,835.0 1141.8,835.8 1144.0,836.7 1146.3,837.7 1148.5,838.6 1150.8,839.5 1153.1,840.4 1155.5,841.3 1157.8,842.3 1160.2,843.2 1162.4,844.1 1164.4,844.9 1166.2,845.7 1168.0,846.4 1169.7,847.2 1171.2,847.9 1172.7,848.5 1174.0,849.0 1175.1,849.4 1176.2,849.6 1177.0,849.7 1177.7,849.8 1178.1,849.8 1178.5,849.8 1178.8,846.0 1178.4,845.9 1177.9,845.9 1177.4,845.9 1176.8,845.8 1176.1,845.7 1175.2,845.4 1174.1,844.9 1172.8,844.4 1171.2,843.7 1169.6,842.9 1167.7,842.1 1165.8,841.3 1163.8,840.5 1161.6,839.6 1159.3,838.7 1156.9,837.8 1154.5,836.8 1152.2,835.9 1150.0,835.0 1147.7,834.1 1145.5,833.2 1143.2,832.3 1141.0,831.4 1138.7,830.5 1136.4,829.7 1134.1,828.8 1131.8,828.0 1129.6,827.2 1127.3,826.4 1125.0,825.7 1122.7,824.9 1120.5,824.2 1118.2,823.5 1115.9,822.7 1113.6,822.0 1111.4,821.4 1109.1,820.7 1106.8,820.0 1104.6,819.4 1102.3,818.7 1100.1,818.1 1097.8,817.5 1095.5,816.8 1093.3,816.2 1091.0,815.7 1088.7,815.1 1086.4,814.5 1084.2,813.9 1081.9,813.3 1079.7,812.7 1077.4,812.1 1075.1,811.5 1072.8,810.9 1070.6,810.4 1068.3,809.8 1066.0,809.3 1063.8,808.8 1061.5,808.2 1059.3,807.7 1057.0,807.3 1054.7,806.8 1052.5,806.3 1050.2,805.9 1047.9,805.4 1045.6,805.0 1043.3,804.5 1041.1,804.1 1038.8,803.7 1036.6,803.3 1034.3,802.9 1032.0,802.5 1029.8,802.2 1027.5,801.8 1025.2,801.5 1022.9,801.2 1020.6,800.9 1018.3,800.6 1016.0,800.4 1013.7,800.2 1011.4,800.1 1009.1,800.0 1006.8,799.9 1004.5,799.8 1002.3,799.7 1000.1,799.7 997.7,799.7 995.3,799.6 993.2,799.6 991.4,799.6 990.1,799.6Z" fill="#3D42A6"/>
<path d="M793.1,847.6h1.8" stroke="#3D42A6" stroke-width="1.8" stroke-opacity="0.8" fill="none"/>
<path d="M820.8,854.8 822.1,855.4 823.8,856.3 825.9,857.3 828.1,858.4 830.5,859.4 832.8,860.4 835.1,861.1 837.5,861.7 839.9,862.2 842.4,862.8 844.8,863.3 847.3,863.9 849.7,864.4 852.1,865.0 854.5,865.5 856.9,866.1 859.4,866.6 861.8,867.2 864.2,867.7 866.5,868.3 868.9,868.9 871.3,869.5 873.7,870.1 876.2,870.7 878.6,871.2 881.0,871.8 883.4,872.3 885.8,872.9 888.3,873.4 890.7,874.0 893.1,874.5 895.5,875.1 897.9,875.6 900.3,876.2 902.7,876.7 905.1,877.2 907.5,877.7 909.9,878.1 912.3,878.6 914.8,879.0 917.2,879.4 919.6,879.8 922.0,880.2 924.5,880.5 926.9,880.8 929.4,881.1 931.8,881.3 934.2,881.5 936.7,881.7 939.1,881.9 941.5,882.0 943.9,882.1 946.4,882.2 948.8,882.2 951.2,882.2 953.7,882.1 956.1,882.0 958.5,881.9 960.9,881.7 963.4,881.5 965.8,881.3 968.2,881.0 970.6,880.7 973.0,880.3 975.5,879.9 978.0,879.5 980.7,879.0 983.6,878.4 986.5,877.8 989.4,877.2 992.2,876.5 994.9,875.8 997.5,875.0 1000.0,874.3 1002.4,873.6 1004.8,872.8 1007.2,871.9 1009.7,870.9 1012.1,869.8 1014.6,868.6 1017.0,867.3 1019.4,866.0 1021.9,864.6 1024.3,863.2 1026.7,861.7 1029.1,860.1 1031.6,858.5 1034.0,856.9 1036.4,855.2 1038.8,853.6 1041.2,852.0 1043.6,850.4 1046.0,848.7 1048.5,847.0 1050.9,845.3 1053.4,843.5 1055.8,841.7 1058.2,839.8 1060.6,837.8 1063.0,835.9 1065.4,833.9 1067.8,832.0 1070.2,830.1 1072.6,828.2 1075.0,826.3 1077.5,824.4 1079.9,822.5 1082.3,820.6 1084.7,818.8 1087.1,816.9 1089.5,815.1 1091.9,813.3 1094.2,811.5 1096.6,809.9 1099.0,808.3 1101.3,806.8 1103.7,805.3 1106.1,803.9 1108.4,802.6 1110.8,801.3 1113.2,800.1 1115.8,798.9 1118.4,797.7 1120.8,796.4 1123.0,795.2 1124.8,794.3 1126.3,793.5 1127.5,792.9 1128.4,792.5 1129.2,792.1 1129.8,791.9 1130.3,791.6 1129.9,790.6 1129.4,790.7 1128.7,790.8 1127.9,791.0 1126.9,791.3 1125.6,791.6 1124.0,792.1 1122.0,792.7 1119.6,793.5 1117.0,794.3 1114.3,795.4 1111.6,796.6 1109.0,797.9 1106.6,799.2 1104.1,800.6 1101.7,802.0 1099.3,803.5 1096.8,805.1 1094.4,806.7 1092.0,808.4 1089.6,810.2 1087.1,812.0 1084.7,813.9 1082.3,815.7 1079.9,817.6 1077.5,819.4 1075.1,821.3 1072.7,823.2 1070.2,825.2 1067.8,827.1 1065.4,829.0 1063.0,830.9 1060.6,832.9 1058.2,834.8 1055.8,836.8 1053.4,838.6 1051.0,840.5 1048.7,842.2 1046.3,843.9 1043.9,845.5 1041.5,847.2 1039.0,848.8 1036.6,850.4 1034.2,852.0 1031.8,853.7 1029.4,855.3 1027.0,856.9 1024.7,858.4 1022.3,859.8 1019.9,861.2 1017.6,862.6 1015.2,863.9 1012.8,865.1 1010.5,866.3 1008.1,867.3 1005.8,868.3 1003.5,869.1 1001.2,869.9 998.8,870.6 996.4,871.3 993.9,872.0 991.2,872.7 988.5,873.4 985.6,874.0 982.8,874.6 980.0,875.2 977.4,875.7 974.8,876.1 972.4,876.5 970.0,876.9 967.7,877.2 965.4,877.4 963.0,877.7 960.6,877.9 958.3,878.1 955.9,878.2 953.5,878.3 951.2,878.4 948.8,878.4 946.4,878.4 944.1,878.3 941.7,878.2 939.3,878.0 936.9,877.9 934.6,877.7 932.2,877.5 929.8,877.2 927.4,877.0 925.0,876.7 922.6,876.3 920.2,876.0 917.8,875.6 915.4,875.2 913.0,874.8 910.7,874.4 908.3,873.9 905.9,873.4 903.5,872.9 901.1,872.4 898.7,871.9 896.3,871.3 893.9,870.8 891.5,870.2 889.1,869.7 886.7,869.1 884.3,868.6 881.9,868.0 879.4,867.5 877.0,866.9 874.6,866.4 872.3,865.8 869.9,865.2 867.5,864.6 865.1,864.0 862.6,863.4 860.2,862.9 857.8,862.3 855.4,861.8 853.0,861.2 850.5,860.7 848.1,860.1 845.7,859.6 843.2,859.0 840.8,858.5 838.4,857.9 836.1,857.4 833.8,856.8 831.5,856.4 829.0,855.8 826.6,855.2 824.4,854.6 822.6,854.1 821.2,853.8Z" fill="#DD2616"/>
<path d="M985.7,833.5L991.5,839.5L991.5,843.9L987.5,839.8L987.5,864.6L983.9,864.6L983.9,839.8L979.9,843.9L979.9,839.5Z" fill="#DD2616"/>
<rect x="792.1" y="767.3" width="387.9" height="275.6" fill="none" stroke="#000" stroke-width="2"/>
<path d="M792.1,892.5h5.2 M1180,892.5h-5.2 M792.1,1017.8h5.2 M1180,1017.8h-5.2 M986,767.3v5.2 M986,1042.9v-5.2" stroke="#000" stroke-width="2" fill="none"/>
</g>
<text transform="translate(938.7,758.8) scale(0.972,1)" font-size="27.3" text-anchor="start" fill="#000" ><tspan font-style="italic">d/a</tspan> = 0.75</text>
<g>
<path d="M1610.6,767.3 L1223,767.3 L1223,800.9 L1230.4,800.1 L1235.4,799 L1240.8,797.5 L1245.9,795.8 L1251.3,793.8 L1256.3,791.5 L1261.6,789.3 L1266.8,787.4 L1275.3,789.5 L1283.5,791.8 L1291.2,793.9 L1299.4,795.5 L1307.5,797.1 L1315.2,798.3 L1331.5,800 L1339.3,800.4 L1358.7,800.9 L1416.8,800.9 L1474.9,800.9 L1494.3,800.4 L1502.1,800 L1518.4,798.3 L1526.1,797.1 L1534.2,795.5 L1542.4,793.9 L1550.1,791.8 L1558.3,789.5 L1566.8,787.4 L1572,789.3 L1577.3,791.5 L1582.3,793.8 L1587.7,795.8 L1592.8,797.5 L1598.2,799 L1603.2,800.1 L1610.6,800.9 Z" fill="#FFF7E6"/>
<path d="M1286.4,767.3L1262.3,784.1L1237.9,767.3Z" fill="#fff"/>
<path d="M1547.2,767.3L1571.3,784.1L1595.7,767.3Z" fill="#fff"/>
<path d="M1223,848.2L1229.5,848.6L1235.9,849.8L1242.4,851.8L1248.8,854.6L1255.3,858.1L1261.8,862.3L1268.2,867.1L1274.7,872.4L1281.1,878.3L1287.6,884.5L1294.1,891.1L1300.5,897.9L1307,904.9L1313.4,911.9L1319.9,919L1326.4,926L1332.8,932.8L1339.3,939.4L1345.7,945.7L1352.2,951.6L1358.7,957.2L1365.1,962.3L1371.6,966.9L1378,970.9L1384.5,974.4L1391,977.3L1397.4,979.5L1403.9,981.2L1410.3,982.2L1416.8,982.5L1423.3,982.2L1429.7,981.2L1436.2,979.5L1442.6,977.3L1449.1,974.4L1455.6,970.9L1462,966.9L1468.5,962.3L1474.9,957.2L1481.4,951.6L1487.9,945.7L1494.3,939.4L1500.8,932.8L1507.2,926L1513.7,919L1520.2,911.9L1526.6,904.9L1533.1,897.9L1539.5,891.1L1546,884.5L1552.5,878.3L1558.9,872.4L1565.4,867.1L1571.8,862.3L1578.3,858.1L1584.8,854.6L1591.2,851.8L1597.7,849.8L1604.1,848.6L1610.6,848.2L1610.6,983.2L1606.8,983.6L1603.1,984.5L1599.3,986.1L1595.6,988.4L1591.8,991.2L1588.1,994.7L1584.3,998.8L1580.6,1003.5L1576.8,1008.7L1573.1,1014.5L1569.3,1020.9L1565.6,1027.7L1561.8,1035L1558.1,1042.8L1275.5,1042.8L1271.8,1035L1268,1027.7L1264.3,1020.9L1260.5,1014.5L1256.8,1008.7L1253,1003.5L1249.3,998.8L1245.5,994.7L1241.8,991.2L1238,988.4L1234.3,986.1L1230.5,984.5L1226.8,983.6L1223,983.2Z" fill="#FFF7E6"/>
<path d="M1224.4,848.9 1224.8,848.9 1225.2,848.8 1225.9,848.8 1226.7,848.6 1227.7,848.4 1228.9,848.0 1230.2,847.5 1231.7,846.9 1233.2,846.1 1234.9,845.4 1236.6,844.6 1238.5,843.8 1240.5,843.0 1242.7,842.1 1245.0,841.2 1247.4,840.2 1249.7,839.3 1252.1,838.4 1254.3,837.5 1256.6,836.6 1258.8,835.6 1261.1,834.7 1263.3,833.9 1265.5,833.0 1267.8,832.2 1270.0,831.3 1272.3,830.5 1274.5,829.8 1276.8,829.0 1279.1,828.2 1281.3,827.5 1283.6,826.7 1285.8,826.0 1288.1,825.3 1290.3,824.6 1292.6,823.9 1294.8,823.3 1297.1,822.6 1299.3,822.0 1301.6,821.4 1303.8,820.8 1306.0,820.2 1308.3,819.6 1310.5,819.0 1312.8,818.4 1315.1,817.9 1317.3,817.3 1319.6,816.8 1321.9,816.2 1324.2,815.6 1326.4,815.0 1328.7,814.5 1330.9,813.9 1333.2,813.4 1335.4,812.8 1337.7,812.3 1339.9,811.8 1342.2,811.3 1344.4,810.9 1346.6,810.4 1348.9,809.9 1351.2,809.4 1353.4,808.9 1355.7,808.5 1357.9,808.0 1360.2,807.6 1362.4,807.1 1364.7,806.7 1366.9,806.3 1369.1,805.9 1371.4,805.5 1373.6,805.2 1375.9,804.8 1378.1,804.4 1380.4,804.1 1382.6,803.8 1384.9,803.5 1387.1,803.2 1389.3,803.0 1391.5,802.9 1393.7,802.7 1395.9,802.6 1398.2,802.5 1400.6,802.4 1403.3,802.3 1406.4,802.2 1409.5,802.2 1412.5,802.1 1415.0,802.1 1416.8,802.0 1416.7,799.6 1414.9,799.5 1412.4,799.5 1409.5,799.5 1406.3,799.5 1403.3,799.6 1400.5,799.6 1398.1,799.6 1395.8,799.7 1393.5,799.8 1391.3,799.9 1389.1,800.0 1386.8,800.2 1384.5,800.4 1382.2,800.6 1379.9,800.9 1377.6,801.2 1375.4,801.5 1373.1,801.8 1370.8,802.2 1368.6,802.5 1366.3,802.9 1364.0,803.3 1361.8,803.6 1359.5,804.0 1357.2,804.4 1355.0,804.8 1352.7,805.3 1350.4,805.7 1348.1,806.2 1345.9,806.6 1343.6,807.1 1341.3,807.6 1339.1,808.1 1336.8,808.6 1334.6,809.1 1332.3,809.6 1330.0,810.2 1327.8,810.7 1325.5,811.3 1323.2,811.9 1320.9,812.5 1318.7,813.0 1316.4,813.6 1314.2,814.1 1311.9,814.7 1309.6,815.3 1307.3,815.8 1305.1,816.4 1302.8,817.0 1300.5,817.7 1298.3,818.3 1296.0,818.9 1293.8,819.6 1291.5,820.3 1289.2,820.9 1287.0,821.6 1284.7,822.4 1282.4,823.1 1280.1,823.8 1277.8,824.6 1275.6,825.3 1273.3,826.1 1271.0,826.9 1268.7,827.7 1266.4,828.6 1264.2,829.4 1261.9,830.3 1259.6,831.2 1257.4,832.1 1255.1,833.0 1252.9,833.9 1250.6,834.8 1248.3,835.7 1246.0,836.7 1243.6,837.6 1241.3,838.5 1239.1,839.4 1237.0,840.2 1235.1,841.0 1233.3,841.9 1231.6,842.6 1230.1,843.3 1228.7,843.9 1227.6,844.4 1226.7,844.7 1226.0,844.9 1225.4,845.0 1224.9,845.0 1224.4,845.0 1224.0,845.1Z" fill="#DD2616"/>
<path d="M1416.8,802.0 1418.6,802.1 1421.1,802.2 1424.1,802.2 1427.2,802.3 1430.3,802.4 1433.0,802.5 1435.4,802.6 1437.7,802.7 1439.9,802.9 1442.1,803.0 1444.3,803.2 1446.5,803.4 1448.7,803.7 1451.0,804.0 1453.2,804.3 1455.5,804.7 1457.7,805.1 1460.0,805.4 1462.2,805.8 1464.5,806.3 1466.7,806.7 1468.9,807.1 1471.2,807.6 1473.4,808.0 1475.7,808.5 1477.9,809.0 1480.2,809.5 1482.4,810.0 1484.7,810.5 1486.9,811.0 1489.2,811.5 1491.4,812.0 1493.7,812.5 1495.9,813.0 1498.1,813.6 1500.4,814.1 1502.6,814.7 1504.9,815.3 1507.2,815.8 1509.4,816.4 1511.7,817.0 1514.0,817.6 1516.2,818.2 1518.5,818.8 1520.8,819.4 1523.0,820.0 1525.3,820.6 1527.5,821.2 1529.8,821.8 1532.0,822.4 1534.3,823.1 1536.5,823.7 1538.7,824.4 1541.0,825.0 1543.2,825.7 1545.5,826.4 1547.8,827.1 1550.0,827.8 1552.3,828.6 1554.5,829.3 1556.8,830.1 1559.1,830.9 1561.3,831.6 1563.6,832.4 1565.8,833.3 1568.1,834.1 1570.3,835.0 1572.5,835.8 1574.8,836.7 1577.0,837.7 1579.3,838.6 1581.5,839.5 1583.9,840.4 1586.2,841.3 1588.6,842.3 1590.9,843.2 1593.1,844.1 1595.1,844.9 1597.0,845.7 1598.7,846.4 1600.4,847.2 1602.0,847.9 1603.4,848.5 1604.7,849.0 1605.9,849.4 1606.9,849.6 1607.8,849.7 1608.4,849.8 1608.9,849.8 1609.2,849.8 1609.6,846.0 1609.1,845.9 1608.7,845.9 1608.2,845.9 1607.6,845.8 1606.9,845.7 1606.0,845.4 1604.9,844.9 1603.5,844.4 1602.0,843.7 1600.3,842.9 1598.5,842.1 1596.6,841.3 1594.5,840.5 1592.3,839.6 1590.0,838.7 1587.6,837.8 1585.3,836.8 1583.0,835.9 1580.7,835.0 1578.5,834.1 1576.2,833.2 1574.0,832.3 1571.7,831.4 1569.4,830.5 1567.2,829.7 1564.9,828.8 1562.6,828.0 1560.3,827.2 1558.0,826.4 1555.8,825.7 1553.5,824.9 1551.2,824.2 1548.9,823.5 1546.6,822.7 1544.4,822.0 1542.1,821.4 1539.8,820.7 1537.6,820.0 1535.3,819.4 1533.1,818.7 1530.8,818.1 1528.6,817.5 1526.3,816.8 1524.0,816.2 1521.7,815.7 1519.5,815.1 1517.2,814.5 1514.9,813.9 1512.7,813.3 1510.4,812.7 1508.1,812.1 1505.9,811.5 1503.6,810.9 1501.3,810.4 1499.0,809.8 1496.8,809.3 1494.5,808.8 1492.3,808.2 1490.0,807.7 1487.8,807.2 1485.5,806.7 1483.2,806.3 1480.9,805.8 1478.7,805.4 1476.4,804.9 1474.1,804.5 1471.8,804.1 1469.6,803.7 1467.3,803.3 1465.1,802.9 1462.8,802.5 1460.5,802.2 1458.2,801.8 1456.0,801.5 1453.7,801.2 1451.4,800.9 1449.1,800.6 1446.8,800.4 1444.5,800.2 1442.3,800.0 1440.1,799.9 1437.8,799.8 1435.5,799.8 1433.1,799.7 1430.3,799.6 1427.3,799.6 1424.1,799.6 1421.2,799.6 1418.7,799.6 1416.9,799.6Z" fill="#3D42A6"/>
<path d="M1269.5,789L1275.3,795L1275.3,799.4L1271.3,795.3L1271.3,819.4L1267.7,819.4L1267.7,795.3L1263.7,799.4L1263.7,795Z" fill="#DD2616"/>
<rect x="1223" y="767.3" width="387.6" height="275.6" fill="none" stroke="#000" stroke-width="2"/>
<path d="M1223,892.5h5.2 M1610.6,892.5h-5.2 M1223,1017.8h5.2 M1610.6,1017.8h-5.2 M1416.8,767.3v5.2 M1416.8,1042.9v-5.2" stroke="#000" stroke-width="2" fill="none"/>
</g>
<text transform="translate(1383.9,758.8) scale(0.972,1)" font-size="27.3" text-anchor="start" fill="#000" ><tspan font-style="italic">d/a</tspan> = 1</text>
<text transform="translate(351.9,775.7) scale(0.968,1)" font-size="28.4" text-anchor="end" fill="#000" >2.5</text>
<text transform="translate(346.4,900.9) scale(0.968,1)" font-size="28.4" text-anchor="end" fill="#000" >2</text>
<text transform="translate(351.9,1026.2) scale(0.968,1)" font-size="28.4" text-anchor="end" fill="#000" >1.5</text>
<text transform="translate(306.2,883.2) rotate(-90)" font-size="27.6" text-anchor="middle" textLength="203.6" lengthAdjust="spacingAndGlyphs" fill="#000">Frequency (GHz)</text>
<text x="362.7" y="1068.9" font-size="26.8" text-anchor="middle" fill="#000" >-0.5</text>
<text x="552.9" y="1068.9" font-size="26.8" text-anchor="middle" fill="#000" >0</text>
<text x="744.8" y="1068.9" font-size="26.8" text-anchor="middle" fill="#000" >0.5</text>
<text x="525.4" y="1098.9" font-size="26.6" fill="#000"><tspan font-style="italic">k</tspan><tspan font-style="italic" font-size="15" dy="8.8">x</tspan><tspan font-style="italic" dy="-8.8">a</tspan>/2<tspan font-style="italic">π</tspan></text>
<text x="798.8" y="1068.9" font-size="26.8" text-anchor="middle" fill="#000" >-0.5</text>
<text x="985.7" y="1068.9" font-size="26.8" text-anchor="middle" fill="#000" >0</text>
<text x="1174.8" y="1068.9" font-size="26.8" text-anchor="middle" fill="#000" >0.5</text>
<text x="951.6" y="1098.9" font-size="26.6" fill="#000"><tspan font-style="italic">k</tspan><tspan font-style="italic" font-size="15" dy="8.8">x</tspan><tspan font-style="italic" dy="-8.8">a</tspan>/2<tspan font-style="italic">π</tspan></text>
<text x="1223.2" y="1068.9" font-size="26.8" text-anchor="middle" fill="#000" >-0.5</text>
<text x="1417.3" y="1068.9" font-size="26.8" text-anchor="middle" fill="#000" >0</text>
<text x="1603.8" y="1068.9" font-size="26.8" text-anchor="middle" fill="#000" >0.5</text>
<text x="1382.8" y="1098.9" font-size="26.6" fill="#000"><tspan font-style="italic">k</tspan><tspan font-style="italic" font-size="15" dy="8.8">x</tspan><tspan font-style="italic" dy="-8.8">a</tspan>/2<tspan font-style="italic">π</tspan></text>
<path d="M405.3,1078.6L411.1,1072.6L411.1,1068.2L407.1,1072.3L407.1,1046.8L403.5,1046.8L403.5,1072.3L399.5,1068.2L399.5,1072.6Z" fill="#DD2616"/>
<text transform="translate(485.8,958.6) scale(0.985,1)" font-size="23.8" text-anchor="start" fill="#DD2616" >going to <tspan font-style="italic">f</tspan> = 0</text>
<text transform="translate(338.1,1098.9) scale(0.985,1)" font-size="23.8" text-anchor="start" fill="#DD2616" >going to <tspan font-style="italic">f</tspan> = 0</text>
<defs>
<clipPath id="cpTop"><rect x="36.7" y="80.9" width="187.4" height="97.5"/></clipPath>
<clipPath id="cpBig"><rect x="41.1" y="324.3" width="151.7" height="79.4"/></clipPath>
</defs>
<path d="M46.7,81.6V246.2H213.4V81.6" fill="none" stroke="#000" stroke-width="2.5" stroke-linejoin="miter"/>
<circle cx="130" cy="160.3" r="43.6" fill="#CEC8C8" stroke="#6E4E26" stroke-width="3.6"/>
<path d="M35,178.45H75.1 M104.3,178.45H144.6 M174.2,178.45H214.1" stroke="#DD2616" stroke-width="10.9" fill="none"/>
<g clip-path="url(#cpTop)">
<rect x="30" y="70" width="210" height="120" fill="#FFEEED"/>
<path d="M46.7,81.6V246.2H213.4V81.6" fill="none" stroke="#584B4B" stroke-width="2.5" stroke-linejoin="miter"/>
<circle cx="130" cy="160.3" r="43.6" fill="#E1CFCF" stroke="#A08266" stroke-width="3.6"/>
<path d="M35,178.45H75.1 M104.3,178.45H144.6 M174.2,178.45H214.1" stroke="#FA8062" stroke-width="10.9" fill="none"/>
</g>
<rect x="36.7" y="80.9" width="187.4" height="97.5" fill="none" stroke="#CAC3C3" stroke-width="2.6"/>
<text transform="translate(128.9,59.9) scale(0.98,1)" font-size="27.3" text-anchor="middle" fill="#DD2616" >PMC</text>
<text x="123.4" y="272.8" font-size="26" text-anchor="middle" fill="#000" font-style="italic">a</text>
<path d="M15,93.1H22.6V111.9H35.6L18.4,161.8L0.3,111.9H15Z" fill="#DD2616"/>
<text x="10.6" y="134.9" font-size="26" text-anchor="start" fill="#fff" font-style="italic">d</text>
<path d="M43.3,253.5L81.4,303.7 M220.8,253.5L181.3,305.4" stroke="#C9C1C1" stroke-width="2.9" fill="none"/>
<path d="M51.6,1051.7V324.3Q51.6,322.4 53.5,322.4H184.9Q186.8,322.4 186.8,324.3V1051.7" fill="none" stroke="#625E5E" stroke-width="5"/>
<circle cx="121" cy="390.2" r="30.9" fill="#CEC8C8" stroke="#6E4E26" stroke-width="3.5"/>
<circle cx="119.1" cy="488.4" r="30.9" fill="#CEC8C8" stroke="#6E4E26" stroke-width="3.5"/>
<circle cx="119.1" cy="586.5" r="30.9" fill="#CEC8C8" stroke="#6E4E26" stroke-width="3.5"/>
<circle cx="118.2" cy="783.2" r="30.9" fill="#CEC8C8" stroke="#6E4E26" stroke-width="3.5"/>
<circle cx="118.2" cy="881.4" r="30.9" fill="#CEC8C8" stroke="#6E4E26" stroke-width="3.5"/>
<circle cx="118.2" cy="979.6" r="30.9" fill="#CEC8C8" stroke="#6E4E26" stroke-width="3.5"/>
<ellipse cx="118.9" cy="659.2" rx="8.7" ry="6.5" fill="#CEC8C8" stroke="#6E4E26" stroke-width="3.1"/>
<ellipse cx="118.9" cy="684.6" rx="8.7" ry="6.5" fill="#CEC8C8" stroke="#6E4E26" stroke-width="3.1"/>
<ellipse cx="118.9" cy="709.7" rx="8.7" ry="6.5" fill="#CEC8C8" stroke="#6E4E26" stroke-width="3.1"/>
<g clip-path="url(#cpBig)">
<rect x="35" y="318" width="165" height="92" fill="#FFEEED"/>
<path d="M51.6,1051.7V324.3Q51.6,322.4 53.5,322.4H184.9Q186.8,322.4 186.8,324.3V1051.7" fill="none" stroke="#A59292" stroke-width="5"/>
<circle cx="121" cy="390.2" r="30.9" fill="#E1CFCF" stroke="#A08266" stroke-width="3.5"/>
</g>
<rect x="41.1" y="324.3" width="151.7" height="79.4" fill="none" stroke="#CAC3C3" stroke-width="2.5"/>
<path d="M18.4,406.3H38.5 M53.1,406.3H73.5 M88,406.3H107.9 M123,406.3H142.9 M157.8,406.3H177.9 M192.4,406.3H212.8" stroke="#DD2616" stroke-width="5.2" fill="none"/>
<path d="M28.4,1051.7H228" stroke="#3C41A9" stroke-width="3" fill="none"/>
<text transform="translate(119.6,1083.8) scale(0.98,1)" font-size="27.3" text-anchor="middle" fill="#2F2B97" >PMC</text>
</svg></body></html>
